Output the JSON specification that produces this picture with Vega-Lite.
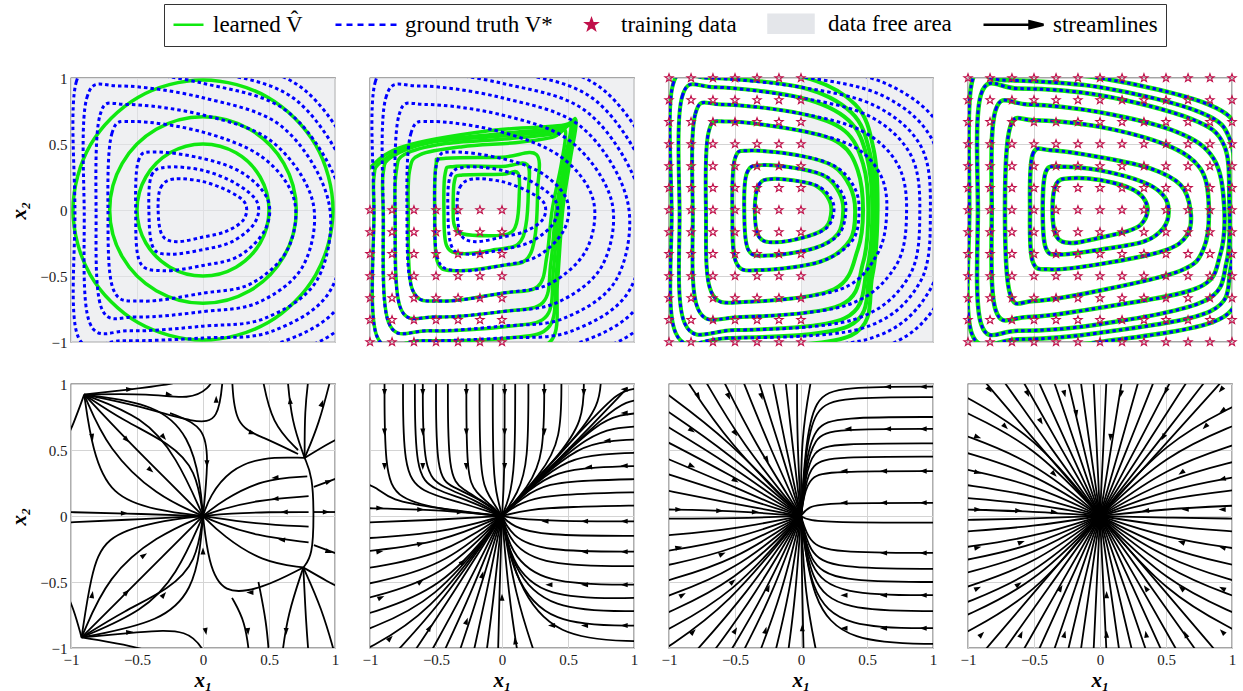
{
"$schema":"https://vega.github.io/schema/vega-lite/v6.json",
"autosize":{"type":"pad"},
"padding":{"left":8,"top":3,"right":5,"bottom":0},
"columns":4,
"spacing":{"row":25,"column":21},
"resolve":{"scale":{"color":"shared","shape":"shared"},"legend":{"color":"shared","shape":"shared"}},
"datasets":{
"df":[{"p":1,"x":-1,"x2":1,"y":-1,"y2":1},{"p":2,"x":-1,"x2":1,"y":0,"y2":1},{"p":2,"x":0,"x2":1,"y":-1,"y2":0},{"p":3,"x":0,"x2":1,"y":-1,"y2":1}],
"gt":[
{"f":"A","c":1,"x":-0.34,"y":0},{"f":"A","c":1,"x":-0.32,"y":0.17},{"f":"A","c":1,"x":-0.22,"y":0.235},{"f":"A","c":1,"x":0,"y":0.215},{"f":"A","c":1,"x":0.2,"y":0.14},{"f":"A","c":1,"x":0.32,"y":0.05},{"f":"A","c":1,"x":0.31,"y":-0.07},{"f":"A","c":1,"x":0.18,"y":-0.16},{"f":"A","c":1,"x":0,"y":-0.205},{"f":"A","c":1,"x":-0.2,"y":-0.24},{"f":"A","c":1,"x":-0.31,"y":-0.19},
{"f":"A","c":2,"x":-0.41,"y":0},{"f":"A","c":2,"x":-0.39,"y":0.26},{"f":"A","c":2,"x":-0.27,"y":0.325},{"f":"A","c":2,"x":0,"y":0.3},{"f":"A","c":2,"x":0.25,"y":0.2},{"f":"A","c":2,"x":0.41,"y":0.06},{"f":"A","c":2,"x":0.39,"y":-0.1},{"f":"A","c":2,"x":0.22,"y":-0.24},{"f":"A","c":2,"x":0,"y":-0.3},{"f":"A","c":2,"x":-0.25,"y":-0.335},{"f":"A","c":2,"x":-0.38,"y":-0.28},
{"f":"A","c":3,"x":-0.51,"y":0},{"f":"A","c":3,"x":-0.49,"y":0.37},{"f":"A","c":3,"x":-0.37,"y":0.44},{"f":"A","c":3,"x":0,"y":0.39},{"f":"A","c":3,"x":0.3,"y":0.28},{"f":"A","c":3,"x":0.49,"y":0.08},{"f":"A","c":3,"x":0.47,"y":-0.15},{"f":"A","c":3,"x":0.27,"y":-0.35},{"f":"A","c":3,"x":0,"y":-0.42},{"f":"A","c":3,"x":-0.3,"y":-0.46},{"f":"A","c":3,"x":-0.48,"y":-0.39},
{"f":"A","c":4,"x":-0.72,"y":0},{"f":"A","c":4,"x":-0.69,"y":0.58},{"f":"A","c":4,"x":-0.52,"y":0.67},{"f":"A","c":4,"x":0,"y":0.59},{"f":"A","c":4,"x":0.45,"y":0.4},{"f":"A","c":4,"x":0.69,"y":0.08},{"f":"A","c":4,"x":0.64,"y":-0.3},{"f":"A","c":4,"x":0.36,"y":-0.56},{"f":"A","c":4,"x":0,"y":-0.63},{"f":"A","c":4,"x":-0.45,"y":-0.69},{"f":"A","c":4,"x":-0.68,"y":-0.6},
{"f":"A","c":5,"x":-0.81,"y":0},{"f":"A","c":5,"x":-0.78,"y":0.72},{"f":"A","c":5,"x":-0.58,"y":0.8},{"f":"A","c":5,"x":0,"y":0.72},{"f":"A","c":5,"x":0.52,"y":0.52},{"f":"A","c":5,"x":0.83,"y":0.07},{"f":"A","c":5,"x":0.76,"y":-0.42},{"f":"A","c":5,"x":0.42,"y":-0.7},{"f":"A","c":5,"x":0,"y":-0.77},{"f":"A","c":5,"x":-0.5,"y":-0.81},{"f":"A","c":5,"x":-0.77,"y":-0.74},
{"f":"A","c":6,"x":-0.9,"y":0},{"f":"A","c":6,"x":-0.88,"y":0.85},{"f":"A","c":6,"x":-0.63,"y":0.94},{"f":"A","c":6,"x":0,"y":0.85},{"f":"A","c":6,"x":0.6,"y":0.63},{"f":"A","c":6,"x":0.95,"y":0.07},{"f":"A","c":6,"x":0.87,"y":-0.52},{"f":"A","c":6,"x":0.47,"y":-0.82},{"f":"A","c":6,"x":0,"y":-0.88},{"f":"A","c":6,"x":-0.55,"y":-0.915},{"f":"A","c":6,"x":-0.86,"y":-0.85},
{"f":"A","c":7,"x":-0.97,"y":0},{"f":"A","c":7,"x":-0.96,"y":0.97},{"f":"A","c":7,"x":-0.67,"y":1.05},{"f":"A","c":7,"x":0,"y":0.96},{"f":"A","c":7,"x":0.66,"y":0.73},{"f":"A","c":7,"x":1.06,"y":0.07},{"f":"A","c":7,"x":0.97,"y":-0.6},{"f":"A","c":7,"x":0.52,"y":-0.92},{"f":"A","c":7,"x":0,"y":-0.97},{"f":"A","c":7,"x":-0.6,"y":-0.99},{"f":"A","c":7,"x":-0.95,"y":-0.95},
{"f":"A","c":8,"x":-1.05,"y":0},{"f":"A","c":8,"x":-1.04,"y":1.08},{"f":"A","c":8,"x":-0.72,"y":1.15},{"f":"A","c":8,"x":0,"y":1.06},{"f":"A","c":8,"x":0.72,"y":0.82},{"f":"A","c":8,"x":1.16,"y":0.07},{"f":"A","c":8,"x":1.06,"y":-0.68},{"f":"A","c":8,"x":0.57,"y":-1.01},{"f":"A","c":8,"x":0,"y":-1.06},{"f":"A","c":8,"x":-0.65,"y":-1.07},{"f":"A","c":8,"x":-1.03,"y":-1.04},
{"f":"A","c":9,"x":-1.12,"y":0},{"f":"A","c":9,"x":-1.12,"y":1.18},{"f":"A","c":9,"x":-0.77,"y":1.26},{"f":"A","c":9,"x":0,"y":1.16},{"f":"A","c":9,"x":0.78,"y":0.9},{"f":"A","c":9,"x":1.26,"y":0.07},{"f":"A","c":9,"x":1.15,"y":-0.76},{"f":"A","c":9,"x":0.62,"y":-1.1},{"f":"A","c":9,"x":0,"y":-1.15},{"f":"A","c":9,"x":-0.7,"y":-1.15},{"f":"A","c":9,"x":-1.1,"y":-1.12},
{"f":"C","c":1,"x":-0.35,"y":0},{"f":"C","c":1,"x":-0.32,"y":0.19},{"f":"C","c":1,"x":-0.22,"y":0.235},{"f":"C","c":1,"x":0,"y":0.215},{"f":"C","c":1,"x":0.13,"y":0.18},{"f":"C","c":1,"x":0.22,"y":0.1},{"f":"C","c":1,"x":0.25,"y":0},{"f":"C","c":1,"x":0.2,"y":-0.13},{"f":"C","c":1,"x":0.05,"y":-0.2},{"f":"C","c":1,"x":-0.2,"y":-0.245},{"f":"C","c":1,"x":-0.32,"y":-0.2},
{"f":"C","c":2,"x":-0.43,"y":0},{"f":"C","c":2,"x":-0.41,"y":0.28},{"f":"C","c":2,"x":-0.3,"y":0.34},{"f":"C","c":2,"x":0,"y":0.31},{"f":"C","c":2,"x":0.2,"y":0.25},{"f":"C","c":2,"x":0.31,"y":0.13},{"f":"C","c":2,"x":0.34,"y":0},{"f":"C","c":2,"x":0.29,"y":-0.18},{"f":"C","c":2,"x":0.1,"y":-0.29},{"f":"C","c":2,"x":-0.25,"y":-0.345},{"f":"C","c":2,"x":-0.4,"y":-0.3},
{"f":"C","c":3,"x":-0.52,"y":0},{"f":"C","c":3,"x":-0.5,"y":0.39},{"f":"C","c":3,"x":-0.38,"y":0.45},{"f":"C","c":3,"x":0,"y":0.41},{"f":"C","c":3,"x":0.26,"y":0.33},{"f":"C","c":3,"x":0.4,"y":0.18},{"f":"C","c":3,"x":0.44,"y":0},{"f":"C","c":3,"x":0.39,"y":-0.23},{"f":"C","c":3,"x":0.15,"y":-0.39},{"f":"C","c":3,"x":-0.3,"y":-0.455},{"f":"C","c":3,"x":-0.49,"y":-0.4},
{"f":"C","c":4,"x":-0.72,"y":0},{"f":"C","c":4,"x":-0.7,"y":0.59},{"f":"C","c":4,"x":-0.55,"y":0.67},{"f":"C","c":4,"x":0,"y":0.6},{"f":"C","c":4,"x":0.4,"y":0.48},{"f":"C","c":4,"x":0.6,"y":0.27},{"f":"C","c":4,"x":0.65,"y":0},{"f":"C","c":4,"x":0.58,"y":-0.33},{"f":"C","c":4,"x":0.3,"y":-0.6},{"f":"C","c":4,"x":-0.4,"y":-0.695},{"f":"C","c":4,"x":-0.68,"y":-0.62},
{"f":"C","c":5,"x":-0.82,"y":0},{"f":"C","c":5,"x":-0.8,"y":0.73},{"f":"C","c":5,"x":-0.6,"y":0.8},{"f":"C","c":5,"x":0,"y":0.73},{"f":"C","c":5,"x":0.46,"y":0.6},{"f":"C","c":5,"x":0.73,"y":0.35},{"f":"C","c":5,"x":0.8,"y":0},{"f":"C","c":5,"x":0.72,"y":-0.42},{"f":"C","c":5,"x":0.35,"y":-0.72},{"f":"C","c":5,"x":-0.45,"y":-0.81},{"f":"C","c":5,"x":-0.78,"y":-0.75},
{"f":"C","c":6,"x":-0.92,"y":0},{"f":"C","c":6,"x":-0.9,"y":0.86},{"f":"C","c":6,"x":-0.65,"y":0.93},{"f":"C","c":6,"x":0,"y":0.85},{"f":"C","c":6,"x":0.52,"y":0.71},{"f":"C","c":6,"x":0.83,"y":0.42},{"f":"C","c":6,"x":0.9,"y":0},{"f":"C","c":6,"x":0.82,"y":-0.5},{"f":"C","c":6,"x":0.4,"y":-0.83},{"f":"C","c":6,"x":-0.5,"y":-0.91},{"f":"C","c":6,"x":-0.88,"y":-0.86},
{"f":"C","c":7,"x":-0.98,"y":0},{"f":"C","c":7,"x":-0.97,"y":0.95},{"f":"C","c":7,"x":-0.7,"y":1.0},{"f":"C","c":7,"x":0,"y":0.93},{"f":"C","c":7,"x":0.56,"y":0.79},{"f":"C","c":7,"x":0.91,"y":0.48},{"f":"C","c":7,"x":0.98,"y":0},{"f":"C","c":7,"x":0.9,"y":-0.55},{"f":"C","c":7,"x":0.45,"y":-0.9},{"f":"C","c":7,"x":-0.55,"y":-0.97},{"f":"C","c":7,"x":-0.95,"y":-0.93},
{"f":"C","c":8,"x":-1.05,"y":0},{"f":"C","c":8,"x":-1.04,"y":1.04},{"f":"C","c":8,"x":-0.75,"y":1.08},{"f":"C","c":8,"x":0,"y":1.01},{"f":"C","c":8,"x":0.61,"y":0.87},{"f":"C","c":8,"x":0.99,"y":0.54},{"f":"C","c":8,"x":1.07,"y":0},{"f":"C","c":8,"x":0.98,"y":-0.6},{"f":"C","c":8,"x":0.5,"y":-0.98},{"f":"C","c":8,"x":-0.6,"y":-1.04},{"f":"C","c":8,"x":-1.03,"y":-1.02},
{"f":"C","c":9,"x":-1.12,"y":0},{"f":"C","c":9,"x":-1.12,"y":1.13},{"f":"C","c":9,"x":-0.8,"y":1.17},{"f":"C","c":9,"x":0,"y":1.1},{"f":"C","c":9,"x":0.66,"y":0.95},{"f":"C","c":9,"x":1.07,"y":0.6},{"f":"C","c":9,"x":1.15,"y":0},{"f":"C","c":9,"x":1.06,"y":-0.66},{"f":"C","c":9,"x":0.55,"y":-1.06},{"f":"C","c":9,"x":-0.65,"y":-1.12},{"f":"C","c":9,"x":-1.1,"y":-1.1},
{"f":"B","c":1,"x":-0.36,"y":0},{"f":"B","c":1,"x":-0.33,"y":0.2},{"f":"B","c":1,"x":-0.22,"y":0.24},{"f":"B","c":1,"x":0,"y":0.227},{"f":"B","c":1,"x":0.23,"y":0.164},{"f":"B","c":1,"x":0.33,"y":0.09},{"f":"B","c":1,"x":0.36,"y":-0.01},{"f":"B","c":1,"x":0.31,"y":-0.11},{"f":"B","c":1,"x":0.21,"y":-0.16},{"f":"B","c":1,"x":0,"y":-0.21},{"f":"B","c":1,"x":-0.22,"y":-0.25},{"f":"B","c":1,"x":-0.33,"y":-0.2},
{"f":"B","c":2,"x":-0.434,"y":0},{"f":"B","c":2,"x":-0.41,"y":0.29},{"f":"B","c":2,"x":-0.3,"y":0.327},{"f":"B","c":2,"x":0,"y":0.3},{"f":"B","c":2,"x":0.33,"y":0.21},{"f":"B","c":2,"x":0.48,"y":0.11},{"f":"B","c":2,"x":0.52,"y":-0.01},{"f":"B","c":2,"x":0.48,"y":-0.137},{"f":"B","c":2,"x":0.33,"y":-0.24},{"f":"B","c":2,"x":0,"y":-0.3},{"f":"B","c":2,"x":-0.3,"y":-0.337},{"f":"B","c":2,"x":-0.41,"y":-0.29},
{"f":"B","c":3,"x":-0.53,"y":0},{"f":"B","c":3,"x":-0.51,"y":0.42},{"f":"B","c":3,"x":-0.37,"y":0.453},{"f":"B","c":3,"x":0,"y":0.4},{"f":"B","c":3,"x":0.38,"y":0.315},{"f":"B","c":3,"x":0.61,"y":0.19},{"f":"B","c":3,"x":0.685,"y":0},{"f":"B","c":3,"x":0.66,"y":-0.19},{"f":"B","c":3,"x":0.48,"y":-0.31},{"f":"B","c":3,"x":0,"y":-0.41},{"f":"B","c":3,"x":-0.37,"y":-0.45},{"f":"B","c":3,"x":-0.51,"y":-0.39},
{"f":"B","c":4,"x":-0.72,"y":0},{"f":"B","c":4,"x":-0.68,"y":0.63},{"f":"B","c":4,"x":-0.5,"y":0.68},{"f":"B","c":4,"x":0,"y":0.63},{"f":"B","c":4,"x":0.51,"y":0.49},{"f":"B","c":4,"x":0.76,"y":0.315},{"f":"B","c":4,"x":0.824,"y":0.04},{"f":"B","c":4,"x":0.786,"y":-0.29},{"f":"B","c":4,"x":0.61,"y":-0.46},{"f":"B","c":4,"x":0,"y":-0.61},{"f":"B","c":4,"x":-0.5,"y":-0.69},{"f":"B","c":4,"x":-0.68,"y":-0.64},
{"f":"B","c":5,"x":-0.82,"y":0},{"f":"B","c":5,"x":-0.79,"y":0.76},{"f":"B","c":5,"x":-0.55,"y":0.8},{"f":"B","c":5,"x":0,"y":0.74},{"f":"B","c":5,"x":0.585,"y":0.59},{"f":"B","c":5,"x":0.86,"y":0.39},{"f":"B","c":5,"x":0.94,"y":0.04},{"f":"B","c":5,"x":0.91,"y":-0.34},{"f":"B","c":5,"x":0.74,"y":-0.59},{"f":"B","c":5,"x":0,"y":-0.74},{"f":"B","c":5,"x":-0.55,"y":-0.81},{"f":"B","c":5,"x":-0.79,"y":-0.76},
{"f":"B","c":6,"x":-0.925,"y":0},{"f":"B","c":6,"x":-0.9,"y":0.88},{"f":"B","c":6,"x":-0.62,"y":0.92},{"f":"B","c":6,"x":0,"y":0.87},{"f":"B","c":6,"x":0.69,"y":0.69},{"f":"B","c":6,"x":0.94,"y":0.49},{"f":"B","c":6,"x":0.98,"y":0.06},{"f":"B","c":6,"x":0.96,"y":-0.39},{"f":"B","c":6,"x":0.79,"y":-0.69},{"f":"B","c":6,"x":0,"y":-0.865},{"f":"B","c":6,"x":-0.62,"y":-0.915},{"f":"B","c":6,"x":-0.9,"y":-0.865},
{"f":"B","c":7,"x":-0.99,"y":0},{"f":"B","c":7,"x":-0.97,"y":0.97},{"f":"B","c":7,"x":-0.75,"y":0.985},{"f":"B","c":7,"x":0,"y":0.93},{"f":"B","c":7,"x":0.76,"y":0.74},{"f":"B","c":7,"x":0.99,"y":0.52},{"f":"B","c":7,"x":1.01,"y":0.06},{"f":"B","c":7,"x":0.99,"y":-0.44},{"f":"B","c":7,"x":0.84,"y":-0.765},{"f":"B","c":7,"x":0,"y":-0.93},{"f":"B","c":7,"x":-0.62,"y":-0.98},{"f":"B","c":7,"x":-0.97,"y":-0.94},
{"f":"B","c":8,"x":-1.06,"y":0},{"f":"B","c":8,"x":-1.05,"y":1.05},{"f":"B","c":8,"x":-0.8,"y":1.06},{"f":"B","c":8,"x":0,"y":1.0},{"f":"B","c":8,"x":0.82,"y":0.8},{"f":"B","c":8,"x":1.06,"y":0.56},{"f":"B","c":8,"x":1.08,"y":0.06},{"f":"B","c":8,"x":1.06,"y":-0.48},{"f":"B","c":8,"x":0.9,"y":-0.83},{"f":"B","c":8,"x":0,"y":-1.0},{"f":"B","c":8,"x":-0.66,"y":-1.05},{"f":"B","c":8,"x":-1.04,"y":-1.02}
],
"lv":[
{"p":1,"c":1,"x":0.5,"y":0},{"p":1,"c":1,"x":0.433,"y":0.25},{"p":1,"c":1,"x":0.25,"y":0.433},{"p":1,"c":1,"x":0,"y":0.5},{"p":1,"c":1,"x":-0.25,"y":0.433},{"p":1,"c":1,"x":-0.433,"y":0.25},{"p":1,"c":1,"x":-0.5,"y":0},{"p":1,"c":1,"x":-0.433,"y":-0.25},{"p":1,"c":1,"x":-0.25,"y":-0.433},{"p":1,"c":1,"x":0,"y":-0.5},{"p":1,"c":1,"x":0.25,"y":-0.433},{"p":1,"c":1,"x":0.433,"y":-0.25},
{"p":1,"c":2,"x":0.707,"y":0},{"p":1,"c":2,"x":0.612,"y":0.354},{"p":1,"c":2,"x":0.354,"y":0.612},{"p":1,"c":2,"x":0,"y":0.707},{"p":1,"c":2,"x":-0.354,"y":0.612},{"p":1,"c":2,"x":-0.612,"y":0.354},{"p":1,"c":2,"x":-0.707,"y":0},{"p":1,"c":2,"x":-0.612,"y":-0.354},{"p":1,"c":2,"x":-0.354,"y":-0.612},{"p":1,"c":2,"x":0,"y":-0.707},{"p":1,"c":2,"x":0.354,"y":-0.612},{"p":1,"c":2,"x":0.612,"y":-0.354},
{"p":1,"c":3,"x":0.985,"y":0},{"p":1,"c":3,"x":0.853,"y":0.493},{"p":1,"c":3,"x":0.493,"y":0.853},{"p":1,"c":3,"x":0,"y":0.985},{"p":1,"c":3,"x":-0.493,"y":0.853},{"p":1,"c":3,"x":-0.853,"y":0.493},{"p":1,"c":3,"x":-0.985,"y":0},{"p":1,"c":3,"x":-0.853,"y":-0.493},{"p":1,"c":3,"x":-0.493,"y":-0.853},{"p":1,"c":3,"x":0,"y":-0.985},{"p":1,"c":3,"x":0.493,"y":-0.853},{"p":1,"c":3,"x":0.853,"y":-0.493},
{"p":2,"c":1,"x":-0.37,"y":0},{"p":2,"c":1,"x":-0.36,"y":0.22},{"p":2,"c":1,"x":-0.3,"y":0.265},{"p":2,"c":1,"x":0,"y":0.27},{"p":2,"c":1,"x":0.12,"y":0.28},{"p":2,"c":1,"x":0.13,"y":0.1},{"p":2,"c":1,"x":0.11,"y":-0.1},{"p":2,"c":1,"x":0.05,"y":-0.18},{"p":2,"c":1,"x":-0.1,"y":-0.195},{"p":2,"c":1,"x":-0.3,"y":-0.18},{"p":2,"c":1,"x":-0.36,"y":-0.12},
{"p":2,"c":2,"x":-0.44,"y":0},{"p":2,"c":2,"x":-0.43,"y":0.28},{"p":2,"c":2,"x":-0.36,"y":0.33},{"p":2,"c":2,"x":0,"y":0.33},{"p":2,"c":2,"x":0.19,"y":0.345},{"p":2,"c":2,"x":0.2,"y":0.15},{"p":2,"c":2,"x":0.18,"y":-0.12},{"p":2,"c":2,"x":0.12,"y":-0.26},{"p":2,"c":2,"x":-0.05,"y":-0.3},{"p":2,"c":2,"x":-0.3,"y":-0.33},{"p":2,"c":2,"x":-0.42,"y":-0.27},
{"p":2,"c":3,"x":-0.51,"y":0},{"p":2,"c":3,"x":-0.5,"y":0.34},{"p":2,"c":3,"x":-0.44,"y":0.39},{"p":2,"c":3,"x":0,"y":0.4},{"p":2,"c":3,"x":0.26,"y":0.42},{"p":2,"c":3,"x":0.27,"y":0.15},{"p":2,"c":3,"x":0.25,"y":-0.2},{"p":2,"c":3,"x":0.18,"y":-0.38},{"p":2,"c":3,"x":0,"y":-0.42},{"p":2,"c":3,"x":-0.35,"y":-0.46},{"p":2,"c":3,"x":-0.49,"y":-0.39},
{"p":2,"c":4,"x":-0.71,"y":0},{"p":2,"c":4,"x":-0.7,"y":0.3},{"p":2,"c":4,"x":-0.62,"y":0.42},{"p":2,"c":4,"x":-0.3,"y":0.48},{"p":2,"c":4,"x":0.1,"y":0.51},{"p":2,"c":4,"x":0.38,"y":0.55},{"p":2,"c":4,"x":0.48,"y":0.6},{"p":2,"c":4,"x":0.45,"y":0.35},{"p":2,"c":4,"x":0.38,"y":0},{"p":2,"c":4,"x":0.34,"y":-0.35},{"p":2,"c":4,"x":0.27,"y":-0.58},{"p":2,"c":4,"x":0,"y":-0.63},{"p":2,"c":4,"x":-0.45,"y":-0.69},{"p":2,"c":4,"x":-0.68,"y":-0.6},
{"p":2,"c":5,"x":-0.81,"y":0},{"p":2,"c":5,"x":-0.8,"y":0.3},{"p":2,"c":5,"x":-0.74,"y":0.42},{"p":2,"c":5,"x":-0.45,"y":0.5},{"p":2,"c":5,"x":0.05,"y":0.54},{"p":2,"c":5,"x":0.4,"y":0.58},{"p":2,"c":5,"x":0.52,"y":0.64},{"p":2,"c":5,"x":0.48,"y":0.4},{"p":2,"c":5,"x":0.41,"y":0},{"p":2,"c":5,"x":0.37,"y":-0.4},{"p":2,"c":5,"x":0.31,"y":-0.7},{"p":2,"c":5,"x":0,"y":-0.77},{"p":2,"c":5,"x":-0.5,"y":-0.81},{"p":2,"c":5,"x":-0.77,"y":-0.74},
{"p":2,"c":6,"x":-0.9,"y":0},{"p":2,"c":6,"x":-0.9,"y":0.28},{"p":2,"c":6,"x":-0.84,"y":0.4},{"p":2,"c":6,"x":-0.55,"y":0.51},{"p":2,"c":6,"x":0,"y":0.56},{"p":2,"c":6,"x":0.42,"y":0.6},{"p":2,"c":6,"x":0.54,"y":0.66},{"p":2,"c":6,"x":0.5,"y":0.4},{"p":2,"c":6,"x":0.43,"y":0},{"p":2,"c":6,"x":0.39,"y":-0.45},{"p":2,"c":6,"x":0.34,"y":-0.8},{"p":2,"c":6,"x":0.05,"y":-0.88},{"p":2,"c":6,"x":-0.55,"y":-0.915},{"p":2,"c":6,"x":-0.86,"y":-0.85},
{"p":2,"c":7,"x":-0.97,"y":0},{"p":2,"c":7,"x":-0.97,"y":0.25},{"p":2,"c":7,"x":-0.92,"y":0.36},{"p":2,"c":7,"x":-0.65,"y":0.5},{"p":2,"c":7,"x":0,"y":0.58},{"p":2,"c":7,"x":0.44,"y":0.62},{"p":2,"c":7,"x":0.55,"y":0.67},{"p":2,"c":7,"x":0.51,"y":0.4},{"p":2,"c":7,"x":0.45,"y":0},{"p":2,"c":7,"x":0.41,"y":-0.5},{"p":2,"c":7,"x":0.36,"y":-0.88},{"p":2,"c":7,"x":0.05,"y":-0.97},{"p":2,"c":7,"x":-0.6,"y":-0.99},{"p":2,"c":7,"x":-0.95,"y":-0.95},
{"p":2,"c":8,"x":-1.05,"y":0},{"p":2,"c":8,"x":-1.05,"y":0.22},{"p":2,"c":8,"x":-1.0,"y":0.32},{"p":2,"c":8,"x":-0.75,"y":0.48},{"p":2,"c":8,"x":-0.1,"y":0.6},{"p":2,"c":8,"x":0.45,"y":0.64},{"p":2,"c":8,"x":0.56,"y":0.68},{"p":2,"c":8,"x":0.52,"y":0.4},{"p":2,"c":8,"x":0.46,"y":0},{"p":2,"c":8,"x":0.42,"y":-0.55},{"p":2,"c":8,"x":0.38,"y":-0.98},{"p":2,"c":8,"x":0.05,"y":-1.06},{"p":2,"c":8,"x":-0.65,"y":-1.07},{"p":2,"c":8,"x":-1.03,"y":-1.04},
{"p":3,"c":1,"x":-0.35,"y":0},{"p":3,"c":1,"x":-0.32,"y":0.19},{"p":3,"c":1,"x":-0.22,"y":0.235},{"p":3,"c":1,"x":0,"y":0.215},{"p":3,"c":1,"x":0.12,"y":0.18},{"p":3,"c":1,"x":0.2,"y":0.1},{"p":3,"c":1,"x":0.23,"y":0},{"p":3,"c":1,"x":0.19,"y":-0.13},{"p":3,"c":1,"x":0.05,"y":-0.2},{"p":3,"c":1,"x":-0.2,"y":-0.245},{"p":3,"c":1,"x":-0.32,"y":-0.2},
{"p":3,"c":2,"x":-0.43,"y":0},{"p":3,"c":2,"x":-0.41,"y":0.28},{"p":3,"c":2,"x":-0.3,"y":0.34},{"p":3,"c":2,"x":0,"y":0.31},{"p":3,"c":2,"x":0.19,"y":0.25},{"p":3,"c":2,"x":0.29,"y":0.13},{"p":3,"c":2,"x":0.32,"y":0},{"p":3,"c":2,"x":0.28,"y":-0.18},{"p":3,"c":2,"x":0.1,"y":-0.29},{"p":3,"c":2,"x":-0.25,"y":-0.345},{"p":3,"c":2,"x":-0.4,"y":-0.3},
{"p":3,"c":3,"x":-0.52,"y":0},{"p":3,"c":3,"x":-0.5,"y":0.39},{"p":3,"c":3,"x":-0.38,"y":0.45},{"p":3,"c":3,"x":0,"y":0.41},{"p":3,"c":3,"x":0.25,"y":0.33},{"p":3,"c":3,"x":0.37,"y":0.18},{"p":3,"c":3,"x":0.41,"y":0},{"p":3,"c":3,"x":0.37,"y":-0.23},{"p":3,"c":3,"x":0.15,"y":-0.39},{"p":3,"c":3,"x":-0.3,"y":-0.455},{"p":3,"c":3,"x":-0.49,"y":-0.4},
{"p":3,"c":4,"x":-0.72,"y":0},{"p":3,"c":4,"x":-0.7,"y":0.59},{"p":3,"c":4,"x":-0.55,"y":0.67},{"p":3,"c":4,"x":0,"y":0.6},{"p":3,"c":4,"x":0.3,"y":0.5},{"p":3,"c":4,"x":0.43,"y":0.3},{"p":3,"c":4,"x":0.47,"y":0},{"p":3,"c":4,"x":0.43,"y":-0.3},{"p":3,"c":4,"x":0.25,"y":-0.6},{"p":3,"c":4,"x":-0.4,"y":-0.695},{"p":3,"c":4,"x":-0.68,"y":-0.62},
{"p":3,"c":5,"x":-0.82,"y":0},{"p":3,"c":5,"x":-0.8,"y":0.73},{"p":3,"c":5,"x":-0.6,"y":0.8},{"p":3,"c":5,"x":0,"y":0.73},{"p":3,"c":5,"x":0.33,"y":0.6},{"p":3,"c":5,"x":0.47,"y":0.35},{"p":3,"c":5,"x":0.51,"y":0},{"p":3,"c":5,"x":0.47,"y":-0.4},{"p":3,"c":5,"x":0.3,"y":-0.72},{"p":3,"c":5,"x":-0.45,"y":-0.81},{"p":3,"c":5,"x":-0.78,"y":-0.75},
{"p":3,"c":6,"x":-0.92,"y":0},{"p":3,"c":6,"x":-0.9,"y":0.86},{"p":3,"c":6,"x":-0.65,"y":0.93},{"p":3,"c":6,"x":0,"y":0.85},{"p":3,"c":6,"x":0.36,"y":0.68},{"p":3,"c":6,"x":0.5,"y":0.4},{"p":3,"c":6,"x":0.54,"y":0},{"p":3,"c":6,"x":0.5,"y":-0.45},{"p":3,"c":6,"x":0.33,"y":-0.82},{"p":3,"c":6,"x":-0.5,"y":-0.91},{"p":3,"c":6,"x":-0.88,"y":-0.86},
{"p":3,"c":7,"x":-0.98,"y":0},{"p":3,"c":7,"x":-0.97,"y":0.95},{"p":3,"c":7,"x":-0.7,"y":1.0},{"p":3,"c":7,"x":0,"y":0.93},{"p":3,"c":7,"x":0.38,"y":0.74},{"p":3,"c":7,"x":0.52,"y":0.44},{"p":3,"c":7,"x":0.56,"y":0},{"p":3,"c":7,"x":0.52,"y":-0.48},{"p":3,"c":7,"x":0.36,"y":-0.88},{"p":3,"c":7,"x":-0.55,"y":-0.97},{"p":3,"c":7,"x":-0.95,"y":-0.93},
{"p":3,"c":8,"x":-1.05,"y":0},{"p":3,"c":8,"x":-1.04,"y":1.04},{"p":3,"c":8,"x":-0.75,"y":1.08},{"p":3,"c":8,"x":0,"y":1.01},{"p":3,"c":8,"x":0.41,"y":0.8},{"p":3,"c":8,"x":0.55,"y":0.46},{"p":3,"c":8,"x":0.58,"y":0},{"p":3,"c":8,"x":0.54,"y":-0.5},{"p":3,"c":8,"x":0.38,"y":-0.95},{"p":3,"c":8,"x":-0.6,"y":-1.04},{"p":3,"c":8,"x":-1.03,"y":-1.02}
],
"td":[
{"p":2,"x":-1,"y":-1},{"p":2,"x":-1,"y":-0.833},{"p":2,"x":-1,"y":-0.667},{"p":2,"x":-1,"y":-0.5},{"p":2,"x":-1,"y":-0.333},{"p":2,"x":-1,"y":-0.167},{"p":2,"x":-1,"y":0},
{"p":2,"x":-0.833,"y":-1},{"p":2,"x":-0.833,"y":-0.833},{"p":2,"x":-0.833,"y":-0.667},{"p":2,"x":-0.833,"y":-0.5},{"p":2,"x":-0.833,"y":-0.333},{"p":2,"x":-0.833,"y":-0.167},{"p":2,"x":-0.833,"y":0},
{"p":2,"x":-0.667,"y":-1},{"p":2,"x":-0.667,"y":-0.833},{"p":2,"x":-0.667,"y":-0.667},{"p":2,"x":-0.667,"y":-0.5},{"p":2,"x":-0.667,"y":-0.333},{"p":2,"x":-0.667,"y":-0.167},{"p":2,"x":-0.667,"y":0},
{"p":2,"x":-0.5,"y":-1},{"p":2,"x":-0.5,"y":-0.833},{"p":2,"x":-0.5,"y":-0.667},{"p":2,"x":-0.5,"y":-0.5},{"p":2,"x":-0.5,"y":-0.333},{"p":2,"x":-0.5,"y":-0.167},{"p":2,"x":-0.5,"y":0},
{"p":2,"x":-0.333,"y":-1},{"p":2,"x":-0.333,"y":-0.833},{"p":2,"x":-0.333,"y":-0.667},{"p":2,"x":-0.333,"y":-0.5},{"p":2,"x":-0.333,"y":-0.333},{"p":2,"x":-0.333,"y":-0.167},{"p":2,"x":-0.333,"y":0},
{"p":2,"x":-0.167,"y":-1},{"p":2,"x":-0.167,"y":-0.833},{"p":2,"x":-0.167,"y":-0.667},{"p":2,"x":-0.167,"y":-0.5},{"p":2,"x":-0.167,"y":-0.333},{"p":2,"x":-0.167,"y":-0.167},{"p":2,"x":-0.167,"y":0},
{"p":2,"x":0,"y":-1},{"p":2,"x":0,"y":-0.833},{"p":2,"x":0,"y":-0.667},{"p":2,"x":0,"y":-0.5},{"p":2,"x":0,"y":-0.333},{"p":2,"x":0,"y":-0.167},{"p":2,"x":0,"y":0},
{"p":3,"x":-1,"y":-1},{"p":3,"x":-1,"y":-0.833},{"p":3,"x":-1,"y":-0.667},{"p":3,"x":-1,"y":-0.5},{"p":3,"x":-1,"y":-0.333},{"p":3,"x":-1,"y":-0.167},{"p":3,"x":-1,"y":0},{"p":3,"x":-1,"y":0.167},{"p":3,"x":-1,"y":0.333},{"p":3,"x":-1,"y":0.5},{"p":3,"x":-1,"y":0.667},{"p":3,"x":-1,"y":0.833},{"p":3,"x":-1,"y":1},
{"p":3,"x":-0.833,"y":-1},{"p":3,"x":-0.833,"y":-0.833},{"p":3,"x":-0.833,"y":-0.667},{"p":3,"x":-0.833,"y":-0.5},{"p":3,"x":-0.833,"y":-0.333},{"p":3,"x":-0.833,"y":-0.167},{"p":3,"x":-0.833,"y":0},{"p":3,"x":-0.833,"y":0.167},{"p":3,"x":-0.833,"y":0.333},{"p":3,"x":-0.833,"y":0.5},{"p":3,"x":-0.833,"y":0.667},{"p":3,"x":-0.833,"y":0.833},{"p":3,"x":-0.833,"y":1},
{"p":3,"x":-0.667,"y":-1},{"p":3,"x":-0.667,"y":-0.833},{"p":3,"x":-0.667,"y":-0.667},{"p":3,"x":-0.667,"y":-0.5},{"p":3,"x":-0.667,"y":-0.333},{"p":3,"x":-0.667,"y":-0.167},{"p":3,"x":-0.667,"y":0},{"p":3,"x":-0.667,"y":0.167},{"p":3,"x":-0.667,"y":0.333},{"p":3,"x":-0.667,"y":0.5},{"p":3,"x":-0.667,"y":0.667},{"p":3,"x":-0.667,"y":0.833},{"p":3,"x":-0.667,"y":1},
{"p":3,"x":-0.5,"y":-1},{"p":3,"x":-0.5,"y":-0.833},{"p":3,"x":-0.5,"y":-0.667},{"p":3,"x":-0.5,"y":-0.5},{"p":3,"x":-0.5,"y":-0.333},{"p":3,"x":-0.5,"y":-0.167},{"p":3,"x":-0.5,"y":0},{"p":3,"x":-0.5,"y":0.167},{"p":3,"x":-0.5,"y":0.333},{"p":3,"x":-0.5,"y":0.5},{"p":3,"x":-0.5,"y":0.667},{"p":3,"x":-0.5,"y":0.833},{"p":3,"x":-0.5,"y":1},
{"p":3,"x":-0.333,"y":-1},{"p":3,"x":-0.333,"y":-0.833},{"p":3,"x":-0.333,"y":-0.667},{"p":3,"x":-0.333,"y":-0.5},{"p":3,"x":-0.333,"y":-0.333},{"p":3,"x":-0.333,"y":-0.167},{"p":3,"x":-0.333,"y":0},{"p":3,"x":-0.333,"y":0.167},{"p":3,"x":-0.333,"y":0.333},{"p":3,"x":-0.333,"y":0.5},{"p":3,"x":-0.333,"y":0.667},{"p":3,"x":-0.333,"y":0.833},{"p":3,"x":-0.333,"y":1},
{"p":3,"x":-0.167,"y":-1},{"p":3,"x":-0.167,"y":-0.833},{"p":3,"x":-0.167,"y":-0.667},{"p":3,"x":-0.167,"y":-0.5},{"p":3,"x":-0.167,"y":-0.333},{"p":3,"x":-0.167,"y":-0.167},{"p":3,"x":-0.167,"y":0},{"p":3,"x":-0.167,"y":0.167},{"p":3,"x":-0.167,"y":0.333},{"p":3,"x":-0.167,"y":0.5},{"p":3,"x":-0.167,"y":0.667},{"p":3,"x":-0.167,"y":0.833},{"p":3,"x":-0.167,"y":1},
{"p":3,"x":0,"y":-1},{"p":3,"x":0,"y":-0.833},{"p":3,"x":0,"y":-0.667},{"p":3,"x":0,"y":-0.5},{"p":3,"x":0,"y":-0.333},{"p":3,"x":0,"y":-0.167},{"p":3,"x":0,"y":0},{"p":3,"x":0,"y":0.167},{"p":3,"x":0,"y":0.333},{"p":3,"x":0,"y":0.5},{"p":3,"x":0,"y":0.667},{"p":3,"x":0,"y":0.833},{"p":3,"x":0,"y":1},
{"p":4,"x":-1,"y":-1},{"p":4,"x":-1,"y":-0.833},{"p":4,"x":-1,"y":-0.667},{"p":4,"x":-1,"y":-0.5},{"p":4,"x":-1,"y":-0.333},{"p":4,"x":-1,"y":-0.167},{"p":4,"x":-1,"y":0},{"p":4,"x":-1,"y":0.167},{"p":4,"x":-1,"y":0.333},{"p":4,"x":-1,"y":0.5},{"p":4,"x":-1,"y":0.667},{"p":4,"x":-1,"y":0.833},{"p":4,"x":-1,"y":1},
{"p":4,"x":-0.833,"y":-1},{"p":4,"x":-0.833,"y":-0.833},{"p":4,"x":-0.833,"y":-0.667},{"p":4,"x":-0.833,"y":-0.5},{"p":4,"x":-0.833,"y":-0.333},{"p":4,"x":-0.833,"y":-0.167},{"p":4,"x":-0.833,"y":0},{"p":4,"x":-0.833,"y":0.167},{"p":4,"x":-0.833,"y":0.333},{"p":4,"x":-0.833,"y":0.5},{"p":4,"x":-0.833,"y":0.667},{"p":4,"x":-0.833,"y":0.833},{"p":4,"x":-0.833,"y":1},
{"p":4,"x":-0.667,"y":-1},{"p":4,"x":-0.667,"y":-0.833},{"p":4,"x":-0.667,"y":-0.667},{"p":4,"x":-0.667,"y":-0.5},{"p":4,"x":-0.667,"y":-0.333},{"p":4,"x":-0.667,"y":-0.167},{"p":4,"x":-0.667,"y":0},{"p":4,"x":-0.667,"y":0.167},{"p":4,"x":-0.667,"y":0.333},{"p":4,"x":-0.667,"y":0.5},{"p":4,"x":-0.667,"y":0.667},{"p":4,"x":-0.667,"y":0.833},{"p":4,"x":-0.667,"y":1},
{"p":4,"x":-0.5,"y":-1},{"p":4,"x":-0.5,"y":-0.833},{"p":4,"x":-0.5,"y":-0.667},{"p":4,"x":-0.5,"y":-0.5},{"p":4,"x":-0.5,"y":-0.333},{"p":4,"x":-0.5,"y":-0.167},{"p":4,"x":-0.5,"y":0},{"p":4,"x":-0.5,"y":0.167},{"p":4,"x":-0.5,"y":0.333},{"p":4,"x":-0.5,"y":0.5},{"p":4,"x":-0.5,"y":0.667},{"p":4,"x":-0.5,"y":0.833},{"p":4,"x":-0.5,"y":1},
{"p":4,"x":-0.333,"y":-1},{"p":4,"x":-0.333,"y":-0.833},{"p":4,"x":-0.333,"y":-0.667},{"p":4,"x":-0.333,"y":-0.5},{"p":4,"x":-0.333,"y":-0.333},{"p":4,"x":-0.333,"y":-0.167},{"p":4,"x":-0.333,"y":0},{"p":4,"x":-0.333,"y":0.167},{"p":4,"x":-0.333,"y":0.333},{"p":4,"x":-0.333,"y":0.5},{"p":4,"x":-0.333,"y":0.667},{"p":4,"x":-0.333,"y":0.833},{"p":4,"x":-0.333,"y":1},
{"p":4,"x":-0.167,"y":-1},{"p":4,"x":-0.167,"y":-0.833},{"p":4,"x":-0.167,"y":-0.667},{"p":4,"x":-0.167,"y":-0.5},{"p":4,"x":-0.167,"y":-0.333},{"p":4,"x":-0.167,"y":-0.167},{"p":4,"x":-0.167,"y":0},{"p":4,"x":-0.167,"y":0.167},{"p":4,"x":-0.167,"y":0.333},{"p":4,"x":-0.167,"y":0.5},{"p":4,"x":-0.167,"y":0.667},{"p":4,"x":-0.167,"y":0.833},{"p":4,"x":-0.167,"y":1},
{"p":4,"x":0,"y":-1},{"p":4,"x":0,"y":-0.833},{"p":4,"x":0,"y":-0.667},{"p":4,"x":0,"y":-0.5},{"p":4,"x":0,"y":-0.333},{"p":4,"x":0,"y":-0.167},{"p":4,"x":0,"y":0},{"p":4,"x":0,"y":0.167},{"p":4,"x":0,"y":0.333},{"p":4,"x":0,"y":0.5},{"p":4,"x":0,"y":0.667},{"p":4,"x":0,"y":0.833},{"p":4,"x":0,"y":1},
{"p":4,"x":0.167,"y":-1},{"p":4,"x":0.167,"y":-0.833},{"p":4,"x":0.167,"y":-0.667},{"p":4,"x":0.167,"y":-0.5},{"p":4,"x":0.167,"y":-0.333},{"p":4,"x":0.167,"y":-0.167},{"p":4,"x":0.167,"y":0},{"p":4,"x":0.167,"y":0.167},{"p":4,"x":0.167,"y":0.333},{"p":4,"x":0.167,"y":0.5},{"p":4,"x":0.167,"y":0.667},{"p":4,"x":0.167,"y":0.833},{"p":4,"x":0.167,"y":1},
{"p":4,"x":0.333,"y":-1},{"p":4,"x":0.333,"y":-0.833},{"p":4,"x":0.333,"y":-0.667},{"p":4,"x":0.333,"y":-0.5},{"p":4,"x":0.333,"y":-0.333},{"p":4,"x":0.333,"y":-0.167},{"p":4,"x":0.333,"y":0},{"p":4,"x":0.333,"y":0.167},{"p":4,"x":0.333,"y":0.333},{"p":4,"x":0.333,"y":0.5},{"p":4,"x":0.333,"y":0.667},{"p":4,"x":0.333,"y":0.833},{"p":4,"x":0.333,"y":1},
{"p":4,"x":0.5,"y":-1},{"p":4,"x":0.5,"y":-0.833},{"p":4,"x":0.5,"y":-0.667},{"p":4,"x":0.5,"y":-0.5},{"p":4,"x":0.5,"y":-0.333},{"p":4,"x":0.5,"y":-0.167},{"p":4,"x":0.5,"y":0},{"p":4,"x":0.5,"y":0.167},{"p":4,"x":0.5,"y":0.333},{"p":4,"x":0.5,"y":0.5},{"p":4,"x":0.5,"y":0.667},{"p":4,"x":0.5,"y":0.833},{"p":4,"x":0.5,"y":1},
{"p":4,"x":0.667,"y":-1},{"p":4,"x":0.667,"y":-0.833},{"p":4,"x":0.667,"y":-0.667},{"p":4,"x":0.667,"y":-0.5},{"p":4,"x":0.667,"y":-0.333},{"p":4,"x":0.667,"y":-0.167},{"p":4,"x":0.667,"y":0},{"p":4,"x":0.667,"y":0.167},{"p":4,"x":0.667,"y":0.333},{"p":4,"x":0.667,"y":0.5},{"p":4,"x":0.667,"y":0.667},{"p":4,"x":0.667,"y":0.833},{"p":4,"x":0.667,"y":1},
{"p":4,"x":0.833,"y":-1},{"p":4,"x":0.833,"y":-0.833},{"p":4,"x":0.833,"y":-0.667},{"p":4,"x":0.833,"y":-0.5},{"p":4,"x":0.833,"y":-0.333},{"p":4,"x":0.833,"y":-0.167},{"p":4,"x":0.833,"y":0},{"p":4,"x":0.833,"y":0.167},{"p":4,"x":0.833,"y":0.333},{"p":4,"x":0.833,"y":0.5},{"p":4,"x":0.833,"y":0.667},{"p":4,"x":0.833,"y":0.833},{"p":4,"x":0.833,"y":1},
{"p":4,"x":1,"y":-1},{"p":4,"x":1,"y":-0.833},{"p":4,"x":1,"y":-0.667},{"p":4,"x":1,"y":-0.5},{"p":4,"x":1,"y":-0.333},{"p":4,"x":1,"y":-0.167},{"p":4,"x":1,"y":0},{"p":4,"x":1,"y":0.167},{"p":4,"x":1,"y":0.333},{"p":4,"x":1,"y":0.5},{"p":4,"x":1,"y":0.667},{"p":4,"x":1,"y":0.833},{"p":4,"x":1,"y":1}
],
"sl":[
{"p":5,"l":1,"x":-0.9,"y":0.92},{"p":5,"l":1,"x":-0.6,"y":0.6},{"p":5,"l":1,"x":-0.3,"y":0.3},{"p":5,"l":1,"x":0,"y":0},
{"p":5,"l":2,"x":-0.9,"y":0.92},{"p":5,"l":2,"x":-0.72,"y":0.5},{"p":5,"l":2,"x":-0.35,"y":0.15},{"p":5,"l":2,"x":0,"y":0},
{"p":5,"l":3,"x":-0.9,"y":0.92},{"p":5,"l":3,"x":-0.45,"y":0.75},{"p":5,"l":3,"x":-0.2,"y":0.45},{"p":5,"l":3,"x":0,"y":0},
{"p":5,"l":4,"x":-0.9,"y":0.92},{"p":5,"l":4,"x":-0.35,"y":0.85},{"p":5,"l":4,"x":-0.1,"y":0.6},{"p":5,"l":4,"x":-0.02,"y":0.25},{"p":5,"l":4,"x":0,"y":0},
{"p":5,"l":5,"x":-0.9,"y":0.92},{"p":5,"l":5,"x":-0.84,"y":0.5},{"p":5,"l":5,"x":-0.7,"y":0.15},{"p":5,"l":5,"x":-0.35,"y":0.04},{"p":5,"l":5,"x":0,"y":0},
{"p":5,"l":6,"x":-1.05,"y":0.03},{"p":5,"l":6,"x":-0.6,"y":0.02},{"p":5,"l":6,"x":0,"y":0},
{"p":5,"l":7,"x":-0.9,"y":0.92},{"p":5,"l":7,"x":-0.55,"y":0.96},{"p":5,"l":7,"x":-0.2,"y":1.0},{"p":5,"l":7,"x":0,"y":1.08},
{"p":5,"l":8,"x":-0.9,"y":0.92},{"p":5,"l":8,"x":-0.5,"y":0.84},{"p":5,"l":8,"x":-0.05,"y":0.7},{"p":5,"l":8,"x":0.12,"y":0.72},{"p":5,"l":8,"x":0.15,"y":1.05},
{"p":5,"l":9,"x":-0.25,"y":0.78},{"p":5,"l":9,"x":0.02,"y":0.68},{"p":5,"l":9,"x":0.04,"y":0.4},{"p":5,"l":9,"x":0,"y":0},
{"p":5,"l":10,"x":0.22,"y":1.05},{"p":5,"l":10,"x":0.24,"y":0.68},{"p":5,"l":10,"x":0.45,"y":0.6},{"p":5,"l":10,"x":0.72,"y":0.47},
{"p":5,"l":11,"x":0.77,"y":0.44},{"p":5,"l":11,"x":0.67,"y":0.72},{"p":5,"l":11,"x":0.64,"y":1.05},
{"p":5,"l":12,"x":0.77,"y":0.44},{"p":5,"l":12,"x":0.77,"y":0.8},{"p":5,"l":12,"x":0.8,"y":1.05},
{"p":5,"l":13,"x":0.77,"y":0.44},{"p":5,"l":13,"x":0.88,"y":0.7},{"p":5,"l":13,"x":0.97,"y":1.05},
{"p":5,"l":14,"x":0.77,"y":0.44},{"p":5,"l":14,"x":0.95,"y":0.55},{"p":5,"l":14,"x":1.05,"y":0.6},
{"p":5,"l":15,"x":0.45,"y":1.05},{"p":5,"l":15,"x":0.52,"y":0.7},{"p":5,"l":15,"x":0.72,"y":0.5},
{"p":5,"l":16,"x":0.77,"y":0.44},{"p":5,"l":16,"x":0.45,"y":0.45},{"p":5,"l":16,"x":0.2,"y":0.35},{"p":5,"l":16,"x":0.05,"y":0.15},{"p":5,"l":16,"x":0,"y":0},
{"p":5,"l":17,"x":0.79,"y":0.3},{"p":5,"l":17,"x":0.45,"y":0.28},{"p":5,"l":17,"x":0.15,"y":0.12},{"p":5,"l":17,"x":0,"y":0},
{"p":5,"l":18,"x":0.8,"y":0.15},{"p":5,"l":18,"x":0.4,"y":0.12},{"p":5,"l":18,"x":0.1,"y":0.04},{"p":5,"l":18,"x":0,"y":0},
{"p":5,"l":19,"x":0.8,"y":0.03},{"p":5,"l":19,"x":0.5,"y":0.03},{"p":5,"l":19,"x":0.2,"y":0.02},{"p":5,"l":19,"x":0,"y":0},
{"p":5,"l":20,"x":0.8,"y":-0.08},{"p":5,"l":20,"x":0.4,"y":-0.06},{"p":5,"l":20,"x":0,"y":0},
{"p":5,"l":21,"x":0.8,"y":-0.2},{"p":5,"l":21,"x":0.4,"y":-0.15},{"p":5,"l":21,"x":0.1,"y":-0.05},{"p":5,"l":21,"x":0,"y":0},
{"p":5,"l":22,"x":0.76,"y":-0.39},{"p":5,"l":22,"x":0.45,"y":-0.35},{"p":5,"l":22,"x":0.15,"y":-0.15},{"p":5,"l":22,"x":0,"y":0},
{"p":5,"l":23,"x":0.76,"y":-0.39},{"p":5,"l":23,"x":0.45,"y":-0.55},{"p":5,"l":23,"x":0.15,"y":-0.6},{"p":5,"l":23,"x":0.04,"y":-0.35},{"p":5,"l":23,"x":0,"y":0},
{"p":5,"l":24,"x":0.76,"y":-0.39},{"p":5,"l":24,"x":0.64,"y":-0.75},{"p":5,"l":24,"x":0.6,"y":-1.05},
{"p":5,"l":25,"x":0.76,"y":-0.39},{"p":5,"l":25,"x":0.78,"y":-0.8},{"p":5,"l":25,"x":0.8,"y":-1.05},
{"p":5,"l":26,"x":0.76,"y":-0.39},{"p":5,"l":26,"x":0.9,"y":-0.7},{"p":5,"l":26,"x":1.0,"y":-1.05},
{"p":5,"l":27,"x":0.76,"y":-0.39},{"p":5,"l":27,"x":0.95,"y":-0.5},{"p":5,"l":27,"x":1.05,"y":-0.55},
{"p":5,"l":28,"x":0.84,"y":0.03},{"p":5,"l":28,"x":1.05,"y":0.03},
{"p":5,"l":29,"x":0.84,"y":0.22},{"p":5,"l":29,"x":1.05,"y":0.3},
{"p":5,"l":30,"x":0.84,"y":-0.22},{"p":5,"l":30,"x":1.05,"y":-0.3},
{"p":5,"l":31,"x":0.77,"y":0.44},{"p":5,"l":31,"x":0.83,"y":0.3},{"p":5,"l":31,"x":0.84,"y":0},{"p":5,"l":31,"x":0.83,"y":-0.3},{"p":5,"l":31,"x":0.76,"y":-0.39},
{"p":5,"l":32,"x":0.22,"y":-0.62},{"p":5,"l":32,"x":0.32,"y":-0.8},{"p":5,"l":32,"x":0.35,"y":-1.05},
{"p":5,"l":33,"x":0.42,"y":-0.5},{"p":5,"l":33,"x":0.48,"y":-0.8},{"p":5,"l":33,"x":0.5,"y":-1.05},
{"p":5,"l":34,"x":-0.92,"y":-0.92},{"p":5,"l":34,"x":-0.6,"y":-0.6},{"p":5,"l":34,"x":-0.3,"y":-0.3},{"p":5,"l":34,"x":0,"y":0},
{"p":5,"l":35,"x":-0.92,"y":-0.92},{"p":5,"l":35,"x":-0.72,"y":-0.45},{"p":5,"l":35,"x":-0.35,"y":-0.15},{"p":5,"l":35,"x":0,"y":0},
{"p":5,"l":36,"x":-0.92,"y":-0.92},{"p":5,"l":36,"x":-0.45,"y":-0.72},{"p":5,"l":36,"x":-0.2,"y":-0.45},{"p":5,"l":36,"x":0,"y":0},
{"p":5,"l":37,"x":-0.92,"y":-0.92},{"p":5,"l":37,"x":-0.3,"y":-0.8},{"p":5,"l":37,"x":-0.08,"y":-0.55},{"p":5,"l":37,"x":-0.02,"y":-0.25},{"p":5,"l":37,"x":0,"y":0},
{"p":5,"l":38,"x":-0.92,"y":-0.92},{"p":5,"l":38,"x":-0.85,"y":-0.45},{"p":5,"l":38,"x":-0.75,"y":-0.15},{"p":5,"l":38,"x":-0.35,"y":-0.04},{"p":5,"l":38,"x":0,"y":0},
{"p":5,"l":39,"x":-0.92,"y":-0.92},{"p":5,"l":39,"x":-0.5,"y":-0.88},{"p":5,"l":39,"x":-0.1,"y":-0.85},{"p":5,"l":39,"x":0.02,"y":-1.05},
{"p":5,"l":40,"x":-0.92,"y":-0.92},{"p":5,"l":40,"x":-0.6,"y":-0.97},{"p":5,"l":40,"x":-0.3,"y":-1.05},
{"p":5,"l":41,"x":-0.9,"y":0.92},{"p":5,"l":41,"x":-0.98,"y":0.7},{"p":5,"l":41,"x":-1.05,"y":0.55},
{"p":5,"l":42,"x":-0.92,"y":-0.92},{"p":5,"l":42,"x":-0.98,"y":-0.7},{"p":5,"l":42,"x":-1.05,"y":-0.55},
{"p":5,"l":43,"x":-0.9,"y":0.92},{"p":5,"l":43,"x":-0.4,"y":0.93},{"p":5,"l":43,"x":-0.1,"y":0.88},{"p":5,"l":43,"x":0.05,"y":0.97},{"p":5,"l":43,"x":0.08,"y":1.05},
{"p":5,"l":44,"x":-0.9,"y":0.92},{"p":5,"l":44,"x":-0.6,"y":0.72},{"p":5,"l":44,"x":-0.25,"y":0.55},{"p":5,"l":44,"x":-0.05,"y":0.35},{"p":5,"l":44,"x":0,"y":0},
{"p":5,"l":45,"x":-0.92,"y":-0.92},{"p":5,"l":45,"x":-0.6,"y":-0.72},{"p":5,"l":45,"x":-0.25,"y":-0.55},{"p":5,"l":45,"x":-0.05,"y":-0.35},{"p":5,"l":45,"x":0,"y":0},
{"p":5,"l":46,"x":-1.05,"y":-0.05},{"p":5,"l":46,"x":-0.6,"y":-0.03},{"p":5,"l":46,"x":0,"y":0},
{"p":6,"l":1,"x":-0.89,"y":1.05},{"p":6,"l":1,"x":-0.89,"y":0.35},{"p":6,"l":1,"x":-0.8,"y":0.12},{"p":6,"l":1,"x":-0.4,"y":0.04},{"p":6,"l":1,"x":0,"y":0},
{"p":6,"l":2,"x":-0.75,"y":1.05},{"p":6,"l":2,"x":-0.75,"y":0.35},{"p":6,"l":2,"x":-0.62,"y":0.18},{"p":6,"l":2,"x":-0.3,"y":0.1},{"p":6,"l":2,"x":0,"y":0},
{"p":6,"l":3,"x":-0.66,"y":1.05},{"p":6,"l":3,"x":-0.66,"y":0.32},{"p":6,"l":3,"x":-0.52,"y":0.2},{"p":6,"l":3,"x":-0.25,"y":0.12},{"p":6,"l":3,"x":0,"y":0},
{"p":6,"l":4,"x":-0.6,"y":1.05},{"p":6,"l":4,"x":-0.6,"y":0.32},{"p":6,"l":4,"x":-0.45,"y":0.22},{"p":6,"l":4,"x":-0.2,"y":0.12},{"p":6,"l":4,"x":0,"y":0},
{"p":6,"l":5,"x":-0.5,"y":1.05},{"p":6,"l":5,"x":-0.5,"y":0.3},{"p":6,"l":5,"x":-0.38,"y":0.22},{"p":6,"l":5,"x":-0.15,"y":0.12},{"p":6,"l":5,"x":0,"y":0},
{"p":6,"l":6,"x":-0.41,"y":1.05},{"p":6,"l":6,"x":-0.41,"y":0.3},{"p":6,"l":6,"x":-0.3,"y":0.2},{"p":6,"l":6,"x":-0.12,"y":0.1},{"p":6,"l":6,"x":0,"y":0},
{"p":6,"l":7,"x":-0.27,"y":1.05},{"p":6,"l":7,"x":-0.27,"y":0.3},{"p":6,"l":7,"x":-0.2,"y":0.18},{"p":6,"l":7,"x":-0.08,"y":0.08},{"p":6,"l":7,"x":0,"y":0},
{"p":6,"l":8,"x":-0.17,"y":1.05},{"p":6,"l":8,"x":-0.17,"y":0.3},{"p":6,"l":8,"x":-0.1,"y":0.15},{"p":6,"l":8,"x":0,"y":0},
{"p":6,"l":9,"x":-0.07,"y":1.05},{"p":6,"l":9,"x":-0.07,"y":0.3},{"p":6,"l":9,"x":-0.03,"y":0.12},{"p":6,"l":9,"x":0,"y":0},
{"p":6,"l":10,"x":0.02,"y":1.05},{"p":6,"l":10,"x":0.02,"y":0.3},{"p":6,"l":10,"x":0,"y":0},
{"p":6,"l":11,"x":-1.05,"y":0.25},{"p":6,"l":11,"x":-0.95,"y":0.22},{"p":6,"l":11,"x":-0.85,"y":0.12},{"p":6,"l":11,"x":-0.5,"y":0.06},{"p":6,"l":11,"x":0,"y":0},
{"p":6,"l":12,"x":-1.05,"y":0.06},{"p":6,"l":12,"x":-0.6,"y":0.05},{"p":6,"l":12,"x":-0.3,"y":0.03},{"p":6,"l":12,"x":0,"y":0},
{"p":6,"l":13,"x":-1.05,"y":-0.05},{"p":6,"l":13,"x":-0.5,"y":-0.03},{"p":6,"l":13,"x":0,"y":0},
{"p":6,"l":14,"x":0.1,"y":1.05},{"p":6,"l":14,"x":0.1,"y":0.35},{"p":6,"l":14,"x":0.05,"y":0.12},{"p":6,"l":14,"x":0,"y":0},
{"p":6,"l":15,"x":0.2,"y":1.05},{"p":6,"l":15,"x":0.2,"y":0.4},{"p":6,"l":15,"x":0.12,"y":0.17},{"p":6,"l":15,"x":0,"y":0},
{"p":6,"l":16,"x":0.32,"y":1.05},{"p":6,"l":16,"x":0.32,"y":0.45},{"p":6,"l":16,"x":0.2,"y":0.22},{"p":6,"l":16,"x":0,"y":0},
{"p":6,"l":17,"x":0.45,"y":1.05},{"p":6,"l":17,"x":0.45,"y":0.58},{"p":6,"l":17,"x":0.3,"y":0.32},{"p":6,"l":17,"x":0,"y":0},
{"p":6,"l":18,"x":0.62,"y":1.05},{"p":6,"l":18,"x":0.62,"y":0.72},{"p":6,"l":18,"x":0.42,"y":0.44},{"p":6,"l":18,"x":0,"y":0},
{"p":6,"l":19,"x":0.75,"y":1.05},{"p":6,"l":19,"x":0.74,"y":0.84},{"p":6,"l":19,"x":0.55,"y":0.58},{"p":6,"l":19,"x":0,"y":0},
{"p":6,"l":20,"x":1.05,"y":0.97},{"p":6,"l":20,"x":0.88,"y":0.95},{"p":6,"l":20,"x":0.65,"y":0.7},{"p":6,"l":20,"x":0,"y":0},
{"p":6,"l":21,"x":0,"y":0},{"p":6,"l":21,"x":0.5,"y":0.5},{"p":6,"l":21,"x":0.95,"y":0.97},
{"p":6,"l":22,"x":1.05,"y":0.88},{"p":6,"l":22,"x":0.95,"y":0.87},{"p":6,"l":22,"x":0.8,"y":0.78},{"p":6,"l":22,"x":0.4,"y":0.4},{"p":6,"l":22,"x":0,"y":0},
{"p":6,"l":23,"x":1.05,"y":0.78},{"p":6,"l":23,"x":0.9,"y":0.77},{"p":6,"l":23,"x":0.72,"y":0.7},{"p":6,"l":23,"x":0.4,"y":0.4},{"p":6,"l":23,"x":0,"y":0},
{"p":6,"l":24,"x":1.05,"y":0.68},{"p":6,"l":24,"x":0.85,"y":0.67},{"p":6,"l":24,"x":0.65,"y":0.6},{"p":6,"l":24,"x":0.35,"y":0.35},{"p":6,"l":24,"x":0,"y":0},
{"p":6,"l":25,"x":1.05,"y":0.58},{"p":6,"l":25,"x":0.8,"y":0.57},{"p":6,"l":25,"x":0.58,"y":0.52},{"p":6,"l":25,"x":0.3,"y":0.3},{"p":6,"l":25,"x":0,"y":0},
{"p":6,"l":26,"x":1.05,"y":0.48},{"p":6,"l":26,"x":0.75,"y":0.47},{"p":6,"l":26,"x":0.5,"y":0.43},{"p":6,"l":26,"x":0.25,"y":0.25},{"p":6,"l":26,"x":0,"y":0},
{"p":6,"l":27,"x":1.05,"y":0.38},{"p":6,"l":27,"x":0.7,"y":0.37},{"p":6,"l":27,"x":0.42,"y":0.34},{"p":6,"l":27,"x":0.2,"y":0.2},{"p":6,"l":27,"x":0,"y":0},
{"p":6,"l":28,"x":1.05,"y":0.28},{"p":6,"l":28,"x":0.65,"y":0.27},{"p":6,"l":28,"x":0.35,"y":0.25},{"p":6,"l":28,"x":0.15,"y":0.14},{"p":6,"l":28,"x":0,"y":0},
{"p":6,"l":29,"x":1.05,"y":0.18},{"p":6,"l":29,"x":0.6,"y":0.17},{"p":6,"l":29,"x":0.28,"y":0.15},{"p":6,"l":29,"x":0.1,"y":0.08},{"p":6,"l":29,"x":0,"y":0},
{"p":6,"l":30,"x":1.05,"y":0.08},{"p":6,"l":30,"x":0.5,"y":0.07},{"p":6,"l":30,"x":0.2,"y":0.05},{"p":6,"l":30,"x":0,"y":0},
{"p":6,"l":31,"x":1.05,"y":-0.04},{"p":6,"l":31,"x":0.4,"y":-0.04},{"p":6,"l":31,"x":0.1,"y":-0.02},{"p":6,"l":31,"x":0,"y":0},
{"p":6,"l":32,"x":1.05,"y":-0.15},{"p":6,"l":32,"x":0.3,"y":-0.15},{"p":6,"l":32,"x":0.08,"y":-0.08},{"p":6,"l":32,"x":0,"y":0},
{"p":6,"l":33,"x":1.05,"y":-0.27},{"p":6,"l":33,"x":0.3,"y":-0.27},{"p":6,"l":33,"x":0.07,"y":-0.15},{"p":6,"l":33,"x":0,"y":0},
{"p":6,"l":34,"x":1.05,"y":-0.38},{"p":6,"l":34,"x":0.3,"y":-0.38},{"p":6,"l":34,"x":0.06,"y":-0.2},{"p":6,"l":34,"x":0,"y":0},
{"p":6,"l":35,"x":1.05,"y":-0.52},{"p":6,"l":35,"x":0.3,"y":-0.52},{"p":6,"l":35,"x":0.06,"y":-0.27},{"p":6,"l":35,"x":0,"y":0},
{"p":6,"l":36,"x":1.05,"y":-0.62},{"p":6,"l":36,"x":0.3,"y":-0.63},{"p":6,"l":36,"x":0.06,"y":-0.33},{"p":6,"l":36,"x":0,"y":0},
{"p":6,"l":37,"x":1.05,"y":-0.72},{"p":6,"l":37,"x":0.35,"y":-0.72},{"p":6,"l":37,"x":0.07,"y":-0.38},{"p":6,"l":37,"x":0,"y":0},
{"p":6,"l":38,"x":1.05,"y":-0.83},{"p":6,"l":38,"x":0.35,"y":-0.83},{"p":6,"l":38,"x":0.08,"y":-0.45},{"p":6,"l":38,"x":0,"y":0},
{"p":6,"l":39,"x":1.05,"y":-0.95},{"p":6,"l":39,"x":0.4,"y":-0.93},{"p":6,"l":39,"x":0.1,"y":-0.5},{"p":6,"l":39,"x":0,"y":0},
{"p":6,"l":40,"x":0.25,"y":-1.05},{"p":6,"l":40,"x":0.1,"y":-0.6},{"p":6,"l":40,"x":0,"y":0},
{"p":6,"l":41,"x":0.12,"y":-1.05},{"p":6,"l":41,"x":0.05,"y":-0.6},{"p":6,"l":41,"x":0,"y":0},
{"p":6,"l":42,"x":-1.05,"y":-0.17},{"p":6,"l":42,"x":-0.45,"y":-0.13},{"p":6,"l":42,"x":0,"y":0},
{"p":6,"l":43,"x":-1.05,"y":-0.27},{"p":6,"l":43,"x":-0.45,"y":-0.2},{"p":6,"l":43,"x":0,"y":0},
{"p":6,"l":44,"x":-1.05,"y":-0.4},{"p":6,"l":44,"x":-0.45,"y":-0.3},{"p":6,"l":44,"x":0,"y":0},
{"p":6,"l":45,"x":-1.05,"y":-0.52},{"p":6,"l":45,"x":-0.45,"y":-0.39},{"p":6,"l":45,"x":0,"y":0},
{"p":6,"l":46,"x":-1.05,"y":-0.63},{"p":6,"l":46,"x":-0.45,"y":-0.47},{"p":6,"l":46,"x":0,"y":0},
{"p":6,"l":47,"x":-1.05,"y":-0.75},{"p":6,"l":47,"x":-0.45,"y":-0.56},{"p":6,"l":47,"x":0,"y":0},
{"p":6,"l":48,"x":-1.05,"y":-0.87},{"p":6,"l":48,"x":-0.5,"y":-0.65},{"p":6,"l":48,"x":0,"y":0},
{"p":6,"l":49,"x":-1.05,"y":-1.02},{"p":6,"l":49,"x":-0.55,"y":-0.75},{"p":6,"l":49,"x":0,"y":0},
{"p":6,"l":50,"x":-0.82,"y":-1.05},{"p":6,"l":50,"x":-0.45,"y":-0.65},{"p":6,"l":50,"x":0,"y":0},
{"p":6,"l":51,"x":-0.68,"y":-1.05},{"p":6,"l":51,"x":-0.38,"y":-0.6},{"p":6,"l":51,"x":0,"y":0},
{"p":6,"l":52,"x":-0.55,"y":-1.05},{"p":6,"l":52,"x":-0.3,"y":-0.6},{"p":6,"l":52,"x":0,"y":0},
{"p":6,"l":53,"x":-0.45,"y":-1.05},{"p":6,"l":53,"x":-0.24,"y":-0.6},{"p":6,"l":53,"x":0,"y":0},
{"p":6,"l":54,"x":-0.33,"y":-1.05},{"p":6,"l":54,"x":-0.18,"y":-0.6},{"p":6,"l":54,"x":0,"y":0},
{"p":6,"l":55,"x":-0.22,"y":-1.05},{"p":6,"l":55,"x":-0.12,"y":-0.6},{"p":6,"l":55,"x":0,"y":0},
{"p":6,"l":56,"x":-0.12,"y":-1.05},{"p":6,"l":56,"x":-0.06,"y":-0.6},{"p":6,"l":56,"x":0,"y":0},
{"p":6,"l":57,"x":-0.03,"y":-1.05},{"p":6,"l":57,"x":-0.02,"y":-0.6},{"p":6,"l":57,"x":0,"y":0},
{"p":7,"l":1,"x":1.05,"y":0.98},{"p":7,"l":1,"x":0.3,"y":0.98},{"p":7,"l":1,"x":0.1,"y":0.9},{"p":7,"l":1,"x":0.03,"y":0.5},{"p":7,"l":1,"x":0,"y":0},
{"p":7,"l":2,"x":1.05,"y":0.9},{"p":7,"l":2,"x":0.3,"y":0.9},{"p":7,"l":2,"x":0.1,"y":0.82},{"p":7,"l":2,"x":0.03,"y":0.45},{"p":7,"l":2,"x":0,"y":0},
{"p":7,"l":3,"x":1.05,"y":0.75},{"p":7,"l":3,"x":0.28,"y":0.75},{"p":7,"l":3,"x":0.1,"y":0.68},{"p":7,"l":3,"x":0.03,"y":0.38},{"p":7,"l":3,"x":0,"y":0},
{"p":7,"l":4,"x":1.05,"y":0.66},{"p":7,"l":4,"x":0.25,"y":0.66},{"p":7,"l":4,"x":0.1,"y":0.6},{"p":7,"l":4,"x":0.03,"y":0.33},{"p":7,"l":4,"x":0,"y":0},
{"p":7,"l":5,"x":1.05,"y":0.55},{"p":7,"l":5,"x":0.25,"y":0.55},{"p":7,"l":5,"x":0.09,"y":0.5},{"p":7,"l":5,"x":0.03,"y":0.28},{"p":7,"l":5,"x":0,"y":0},
{"p":7,"l":6,"x":1.05,"y":0.45},{"p":7,"l":6,"x":0.25,"y":0.45},{"p":7,"l":6,"x":0.08,"y":0.4},{"p":7,"l":6,"x":0.03,"y":0.22},{"p":7,"l":6,"x":0,"y":0},
{"p":7,"l":7,"x":1.05,"y":0.34},{"p":7,"l":7,"x":0.22,"y":0.34},{"p":7,"l":7,"x":0.07,"y":0.3},{"p":7,"l":7,"x":0.02,"y":0.15},{"p":7,"l":7,"x":0,"y":0},
{"p":7,"l":8,"x":1.05,"y":0.1},{"p":7,"l":8,"x":0.2,"y":0.1},{"p":7,"l":8,"x":0.05,"y":0.07},{"p":7,"l":8,"x":0,"y":0},
{"p":7,"l":9,"x":1.05,"y":-0.05},{"p":7,"l":9,"x":0.2,"y":-0.05},{"p":7,"l":9,"x":0.05,"y":-0.03},{"p":7,"l":9,"x":0,"y":0},
{"p":7,"l":10,"x":1.05,"y":-0.28},{"p":7,"l":10,"x":0.22,"y":-0.28},{"p":7,"l":10,"x":0.06,"y":-0.2},{"p":7,"l":10,"x":0,"y":0},
{"p":7,"l":11,"x":1.05,"y":-0.4},{"p":7,"l":11,"x":0.24,"y":-0.4},{"p":7,"l":11,"x":0.06,"y":-0.28},{"p":7,"l":11,"x":0,"y":0},
{"p":7,"l":12,"x":1.05,"y":-0.5},{"p":7,"l":12,"x":0.26,"y":-0.5},{"p":7,"l":12,"x":0.06,"y":-0.35},{"p":7,"l":12,"x":0,"y":0},
{"p":7,"l":13,"x":1.05,"y":-0.6},{"p":7,"l":13,"x":0.28,"y":-0.6},{"p":7,"l":13,"x":0.06,"y":-0.4},{"p":7,"l":13,"x":0,"y":0},
{"p":7,"l":14,"x":1.05,"y":-0.72},{"p":7,"l":14,"x":0.3,"y":-0.72},{"p":7,"l":14,"x":0.07,"y":-0.5},{"p":7,"l":14,"x":0,"y":0},
{"p":7,"l":15,"x":1.05,"y":-0.85},{"p":7,"l":15,"x":0.32,"y":-0.85},{"p":7,"l":15,"x":0.07,"y":-0.58},{"p":7,"l":15,"x":0,"y":0},
{"p":7,"l":16,"x":1.05,"y":-0.97},{"p":7,"l":16,"x":0.35,"y":-0.96},{"p":7,"l":16,"x":0.08,"y":-0.65},{"p":7,"l":16,"x":0,"y":0},
{"p":7,"l":17,"x":0.12,"y":-1.05},{"p":7,"l":17,"x":0.03,"y":-0.6},{"p":7,"l":17,"x":0,"y":0},
{"p":7,"l":18,"x":-0.88,"y":1.05},{"p":7,"l":18,"x":-0.55,"y":0.55},{"p":7,"l":18,"x":0,"y":0},
{"p":7,"l":19,"x":-0.74,"y":1.05},{"p":7,"l":19,"x":-0.45,"y":0.55},{"p":7,"l":19,"x":0,"y":0},
{"p":7,"l":20,"x":-0.6,"y":1.05},{"p":7,"l":20,"x":-0.35,"y":0.55},{"p":7,"l":20,"x":0,"y":0},
{"p":7,"l":21,"x":-0.45,"y":1.05},{"p":7,"l":21,"x":-0.25,"y":0.55},{"p":7,"l":21,"x":0,"y":0},
{"p":7,"l":22,"x":-0.33,"y":1.05},{"p":7,"l":22,"x":-0.17,"y":0.55},{"p":7,"l":22,"x":0,"y":0},
{"p":7,"l":23,"x":-0.22,"y":1.05},{"p":7,"l":23,"x":-0.11,"y":0.5},{"p":7,"l":23,"x":0,"y":0},
{"p":7,"l":24,"x":-0.12,"y":1.05},{"p":7,"l":24,"x":-0.06,"y":0.5},{"p":7,"l":24,"x":0,"y":0},
{"p":7,"l":25,"x":-0.03,"y":1.05},{"p":7,"l":25,"x":-0.03,"y":0.6},{"p":7,"l":25,"x":0,"y":0},
{"p":7,"l":26,"x":0.08,"y":1.05},{"p":7,"l":26,"x":0,"y":0.6},{"p":7,"l":26,"x":0,"y":0},
{"p":7,"l":27,"x":-1.05,"y":0.95},{"p":7,"l":27,"x":-0.55,"y":0.58},{"p":7,"l":27,"x":0,"y":0},
{"p":7,"l":28,"x":-1.05,"y":0.82},{"p":7,"l":28,"x":-0.55,"y":0.48},{"p":7,"l":28,"x":0,"y":0},
{"p":7,"l":29,"x":-1.05,"y":0.7},{"p":7,"l":29,"x":-0.55,"y":0.4},{"p":7,"l":29,"x":0,"y":0},
{"p":7,"l":30,"x":-1.05,"y":0.58},{"p":7,"l":30,"x":-0.55,"y":0.32},{"p":7,"l":30,"x":0,"y":0},
{"p":7,"l":31,"x":-1.05,"y":0.45},{"p":7,"l":31,"x":-0.55,"y":0.24},{"p":7,"l":31,"x":0,"y":0},
{"p":7,"l":32,"x":-1.05,"y":0.33},{"p":7,"l":32,"x":-0.55,"y":0.17},{"p":7,"l":32,"x":0,"y":0},
{"p":7,"l":33,"x":-1.05,"y":0.2},{"p":7,"l":33,"x":-0.55,"y":0.1},{"p":7,"l":33,"x":0,"y":0},
{"p":7,"l":34,"x":-1.05,"y":0.05},{"p":7,"l":34,"x":-0.5,"y":0.04},{"p":7,"l":34,"x":0,"y":0},
{"p":7,"l":35,"x":-1.05,"y":-0.02},{"p":7,"l":35,"x":-0.5,"y":-0.02},{"p":7,"l":35,"x":0,"y":0},
{"p":7,"l":36,"x":-1.05,"y":-0.15},{"p":7,"l":36,"x":-0.5,"y":-0.1},{"p":7,"l":36,"x":0,"y":0},
{"p":7,"l":37,"x":-1.05,"y":-0.27},{"p":7,"l":37,"x":-0.5,"y":-0.18},{"p":7,"l":37,"x":0,"y":0},
{"p":7,"l":38,"x":-1.05,"y":-0.38},{"p":7,"l":38,"x":-0.5,"y":-0.26},{"p":7,"l":38,"x":0,"y":0},
{"p":7,"l":39,"x":-1.05,"y":-0.5},{"p":7,"l":39,"x":-0.5,"y":-0.34},{"p":7,"l":39,"x":0,"y":0},
{"p":7,"l":40,"x":-1.05,"y":-0.62},{"p":7,"l":40,"x":-0.5,"y":-0.42},{"p":7,"l":40,"x":0,"y":0},
{"p":7,"l":41,"x":-1.05,"y":-0.75},{"p":7,"l":41,"x":-0.5,"y":-0.5},{"p":7,"l":41,"x":0,"y":0},
{"p":7,"l":42,"x":-1.05,"y":-0.88},{"p":7,"l":42,"x":-0.52,"y":-0.6},{"p":7,"l":42,"x":0,"y":0},
{"p":7,"l":43,"x":-1.05,"y":-1.02},{"p":7,"l":43,"x":-0.55,"y":-0.68},{"p":7,"l":43,"x":0,"y":0},
{"p":7,"l":44,"x":-0.82,"y":-1.05},{"p":7,"l":44,"x":-0.42,"y":-0.6},{"p":7,"l":44,"x":0,"y":0},
{"p":7,"l":45,"x":-0.68,"y":-1.05},{"p":7,"l":45,"x":-0.35,"y":-0.6},{"p":7,"l":45,"x":0,"y":0},
{"p":7,"l":46,"x":-0.55,"y":-1.05},{"p":7,"l":46,"x":-0.28,"y":-0.6},{"p":7,"l":46,"x":0,"y":0},
{"p":7,"l":47,"x":-0.45,"y":-1.05},{"p":7,"l":47,"x":-0.22,"y":-0.6},{"p":7,"l":47,"x":0,"y":0},
{"p":7,"l":48,"x":-0.32,"y":-1.05},{"p":7,"l":48,"x":-0.15,"y":-0.6},{"p":7,"l":48,"x":0,"y":0},
{"p":7,"l":49,"x":-0.2,"y":-1.05},{"p":7,"l":49,"x":-0.09,"y":-0.6},{"p":7,"l":49,"x":0,"y":0},
{"p":7,"l":50,"x":-0.1,"y":-1.05},{"p":7,"l":50,"x":-0.04,"y":-0.6},{"p":7,"l":50,"x":0,"y":0},
{"p":7,"l":51,"x":0.02,"y":-1.05},{"p":7,"l":51,"x":0.01,"y":-0.6},{"p":7,"l":51,"x":0,"y":0},
{"p":8,"l":1,"x":-0.9,"y":1.05},{"p":8,"l":1,"x":-0.45,"y":0.52},{"p":8,"l":1,"x":0,"y":0},
{"p":8,"l":2,"x":-0.75,"y":1.05},{"p":8,"l":2,"x":-0.375,"y":0.52},{"p":8,"l":2,"x":0,"y":0},
{"p":8,"l":3,"x":-0.6,"y":1.05},{"p":8,"l":3,"x":-0.3,"y":0.52},{"p":8,"l":3,"x":0,"y":0},
{"p":8,"l":4,"x":-0.48,"y":1.05},{"p":8,"l":4,"x":-0.24,"y":0.52},{"p":8,"l":4,"x":0,"y":0},
{"p":8,"l":5,"x":-0.36,"y":1.05},{"p":8,"l":5,"x":-0.18,"y":0.52},{"p":8,"l":5,"x":0,"y":0},
{"p":8,"l":6,"x":-0.25,"y":1.05},{"p":8,"l":6,"x":-0.125,"y":0.52},{"p":8,"l":6,"x":0,"y":0},
{"p":8,"l":7,"x":-0.15,"y":1.05},{"p":8,"l":7,"x":-0.075,"y":0.52},{"p":8,"l":7,"x":0,"y":0},
{"p":8,"l":8,"x":-0.05,"y":1.05},{"p":8,"l":8,"x":-0.025,"y":0.52},{"p":8,"l":8,"x":0,"y":0},
{"p":8,"l":9,"x":0.05,"y":1.05},{"p":8,"l":9,"x":0.025,"y":0.52},{"p":8,"l":9,"x":0,"y":0},
{"p":8,"l":10,"x":0.17,"y":1.05},{"p":8,"l":10,"x":0.085,"y":0.52},{"p":8,"l":10,"x":0,"y":0},
{"p":8,"l":11,"x":0.3,"y":1.05},{"p":8,"l":11,"x":0.15,"y":0.52},{"p":8,"l":11,"x":0,"y":0},
{"p":8,"l":12,"x":0.42,"y":1.05},{"p":8,"l":12,"x":0.21,"y":0.52},{"p":8,"l":12,"x":0,"y":0},
{"p":8,"l":13,"x":0.55,"y":1.05},{"p":8,"l":13,"x":0.275,"y":0.52},{"p":8,"l":13,"x":0,"y":0},
{"p":8,"l":14,"x":0.68,"y":1.05},{"p":8,"l":14,"x":0.34,"y":0.52},{"p":8,"l":14,"x":0,"y":0},
{"p":8,"l":15,"x":0.82,"y":1.05},{"p":8,"l":15,"x":0.41,"y":0.52},{"p":8,"l":15,"x":0,"y":0},
{"p":8,"l":16,"x":0.95,"y":1.05},{"p":8,"l":16,"x":0.475,"y":0.52},{"p":8,"l":16,"x":0,"y":0},
{"p":8,"l":17,"x":-0.9,"y":-1.05},{"p":8,"l":17,"x":-0.45,"y":-0.52},{"p":8,"l":17,"x":0,"y":0},
{"p":8,"l":18,"x":-0.75,"y":-1.05},{"p":8,"l":18,"x":-0.375,"y":-0.52},{"p":8,"l":18,"x":0,"y":0},
{"p":8,"l":19,"x":-0.6,"y":-1.05},{"p":8,"l":19,"x":-0.3,"y":-0.52},{"p":8,"l":19,"x":0,"y":0},
{"p":8,"l":20,"x":-0.48,"y":-1.05},{"p":8,"l":20,"x":-0.24,"y":-0.52},{"p":8,"l":20,"x":0,"y":0},
{"p":8,"l":21,"x":-0.36,"y":-1.05},{"p":8,"l":21,"x":-0.18,"y":-0.52},{"p":8,"l":21,"x":0,"y":0},
{"p":8,"l":22,"x":-0.25,"y":-1.05},{"p":8,"l":22,"x":-0.125,"y":-0.52},{"p":8,"l":22,"x":0,"y":0},
{"p":8,"l":23,"x":-0.15,"y":-1.05},{"p":8,"l":23,"x":-0.075,"y":-0.52},{"p":8,"l":23,"x":0,"y":0},
{"p":8,"l":24,"x":-0.05,"y":-1.05},{"p":8,"l":24,"x":-0.025,"y":-0.52},{"p":8,"l":24,"x":0,"y":0},
{"p":8,"l":25,"x":0.05,"y":-1.05},{"p":8,"l":25,"x":0.025,"y":-0.52},{"p":8,"l":25,"x":0,"y":0},
{"p":8,"l":26,"x":0.15,"y":-1.05},{"p":8,"l":26,"x":0.075,"y":-0.52},{"p":8,"l":26,"x":0,"y":0},
{"p":8,"l":27,"x":0.25,"y":-1.05},{"p":8,"l":27,"x":0.125,"y":-0.52},{"p":8,"l":27,"x":0,"y":0},
{"p":8,"l":28,"x":0.36,"y":-1.05},{"p":8,"l":28,"x":0.18,"y":-0.52},{"p":8,"l":28,"x":0,"y":0},
{"p":8,"l":29,"x":0.48,"y":-1.05},{"p":8,"l":29,"x":0.24,"y":-0.52},{"p":8,"l":29,"x":0,"y":0},
{"p":8,"l":30,"x":0.6,"y":-1.05},{"p":8,"l":30,"x":0.3,"y":-0.52},{"p":8,"l":30,"x":0,"y":0},
{"p":8,"l":31,"x":0.75,"y":-1.05},{"p":8,"l":31,"x":0.375,"y":-0.52},{"p":8,"l":31,"x":0,"y":0},
{"p":8,"l":32,"x":0.9,"y":-1.05},{"p":8,"l":32,"x":0.45,"y":-0.52},{"p":8,"l":32,"x":0,"y":0},
{"p":8,"l":33,"x":-1.05,"y":0.92},{"p":8,"l":33,"x":-0.5,"y":0.616},{"p":8,"l":33,"x":0,"y":0},
{"p":8,"l":34,"x":-1.05,"y":0.8},{"p":8,"l":34,"x":-0.5,"y":0.536},{"p":8,"l":34,"x":0,"y":0},
{"p":8,"l":35,"x":-1.05,"y":0.62},{"p":8,"l":35,"x":-0.5,"y":0.415},{"p":8,"l":35,"x":0,"y":0},
{"p":8,"l":36,"x":-1.05,"y":0.49},{"p":8,"l":36,"x":-0.5,"y":0.328},{"p":8,"l":36,"x":0,"y":0},
{"p":8,"l":37,"x":-1.05,"y":0.36},{"p":8,"l":37,"x":-0.5,"y":0.241},{"p":8,"l":37,"x":0,"y":0},
{"p":8,"l":38,"x":-1.05,"y":0.24},{"p":8,"l":38,"x":-0.5,"y":0.161},{"p":8,"l":38,"x":0,"y":0},
{"p":8,"l":39,"x":-1.05,"y":0.14},{"p":8,"l":39,"x":-0.5,"y":0.094},{"p":8,"l":39,"x":0,"y":0},
{"p":8,"l":40,"x":-1.05,"y":0.05},{"p":8,"l":40,"x":-0.5,"y":0.034},{"p":8,"l":40,"x":0,"y":0},
{"p":8,"l":41,"x":-1.05,"y":-0.03},{"p":8,"l":41,"x":-0.5,"y":-0.02},{"p":8,"l":41,"x":0,"y":0},
{"p":8,"l":42,"x":-1.05,"y":-0.12},{"p":8,"l":42,"x":-0.5,"y":-0.08},{"p":8,"l":42,"x":0,"y":0},
{"p":8,"l":43,"x":-1.05,"y":-0.24},{"p":8,"l":43,"x":-0.5,"y":-0.161},{"p":8,"l":43,"x":0,"y":0},
{"p":8,"l":44,"x":-1.05,"y":-0.34},{"p":8,"l":44,"x":-0.5,"y":-0.228},{"p":8,"l":44,"x":0,"y":0},
{"p":8,"l":45,"x":-1.05,"y":-0.44},{"p":8,"l":45,"x":-0.5,"y":-0.295},{"p":8,"l":45,"x":0,"y":0},
{"p":8,"l":46,"x":-1.05,"y":-0.55},{"p":8,"l":46,"x":-0.5,"y":-0.369},{"p":8,"l":46,"x":0,"y":0},
{"p":8,"l":47,"x":-1.05,"y":-0.67},{"p":8,"l":47,"x":-0.5,"y":-0.449},{"p":8,"l":47,"x":0,"y":0},
{"p":8,"l":48,"x":-1.05,"y":-0.77},{"p":8,"l":48,"x":-0.5,"y":-0.516},{"p":8,"l":48,"x":0,"y":0},
{"p":8,"l":49,"x":-1.05,"y":-0.9},{"p":8,"l":49,"x":-0.5,"y":-0.603},{"p":8,"l":49,"x":0,"y":0},
{"p":8,"l":50,"x":1.05,"y":0.85},{"p":8,"l":50,"x":0.5,"y":0.57},{"p":8,"l":50,"x":0,"y":0},
{"p":8,"l":51,"x":1.05,"y":0.7},{"p":8,"l":51,"x":0.5,"y":0.469},{"p":8,"l":51,"x":0,"y":0},
{"p":8,"l":52,"x":1.05,"y":0.55},{"p":8,"l":52,"x":0.5,"y":0.369},{"p":8,"l":52,"x":0,"y":0},
{"p":8,"l":53,"x":1.05,"y":0.42},{"p":8,"l":53,"x":0.5,"y":0.281},{"p":8,"l":53,"x":0,"y":0},
{"p":8,"l":54,"x":1.05,"y":0.3},{"p":8,"l":54,"x":0.5,"y":0.201},{"p":8,"l":54,"x":0,"y":0},
{"p":8,"l":55,"x":1.05,"y":0.2},{"p":8,"l":55,"x":0.5,"y":0.134},{"p":8,"l":55,"x":0,"y":0},
{"p":8,"l":56,"x":1.05,"y":0.08},{"p":8,"l":56,"x":0.5,"y":0.054},{"p":8,"l":56,"x":0,"y":0},
{"p":8,"l":57,"x":1.05,"y":-0.02},{"p":8,"l":57,"x":0.5,"y":-0.013},{"p":8,"l":57,"x":0,"y":0},
{"p":8,"l":58,"x":1.05,"y":-0.12},{"p":8,"l":58,"x":0.5,"y":-0.08},{"p":8,"l":58,"x":0,"y":0},
{"p":8,"l":59,"x":1.05,"y":-0.25},{"p":8,"l":59,"x":0.5,"y":-0.168},{"p":8,"l":59,"x":0,"y":0},
{"p":8,"l":60,"x":1.05,"y":-0.38},{"p":8,"l":60,"x":0.5,"y":-0.255},{"p":8,"l":60,"x":0,"y":0},
{"p":8,"l":61,"x":1.05,"y":-0.5},{"p":8,"l":61,"x":0.5,"y":-0.335},{"p":8,"l":61,"x":0,"y":0},
{"p":8,"l":62,"x":1.05,"y":-0.62},{"p":8,"l":62,"x":0.5,"y":-0.415},{"p":8,"l":62,"x":0,"y":0},
{"p":8,"l":63,"x":1.05,"y":-0.75},{"p":8,"l":63,"x":0.5,"y":-0.503},{"p":8,"l":63,"x":0,"y":0},
{"p":8,"l":64,"x":1.05,"y":-0.88},{"p":8,"l":64,"x":0.5,"y":-0.59},{"p":8,"l":64,"x":0,"y":0}
],
"ar":[
{"p":5,"x":-0.56,"y":0.96,"a":85},{"p":5,"x":-0.26,"y":0.92,"a":100},{"p":5,"x":-0.58,"y":0.58,"a":135},{"p":5,"x":-0.4,"y":0.35,"a":130},{"p":5,"x":-0.3,"y":0.6,"a":140},{"p":5,"x":-0.84,"y":0.6,"a":170},{"p":5,"x":-0.6,"y":0.02,"a":90},{"p":5,"x":0.1,"y":0.88,"a":0},{"p":5,"x":0.03,"y":0.4,"a":180},{"p":5,"x":0.37,"y":0.63,"a":110},{"p":5,"x":0.66,"y":0.87,"a":-5},{"p":5,"x":0.9,"y":0.85,"a":20},{"p":5,"x":0.55,"y":0.29,"a":-95},{"p":5,"x":0.55,"y":0.13,"a":-95},{"p":5,"x":0.62,"y":0.03,"a":-90},{"p":5,"x":0.6,"y":-0.18,"a":-85},{"p":5,"x":0.93,"y":0.03,"a":90},{"p":5,"x":0.95,"y":0.26,"a":70},{"p":5,"x":0.95,"y":-0.27,"a":110},{"p":5,"x":0.36,"y":-0.58,"a":-90},{"p":5,"x":0.63,"y":-0.87,"a":180},{"p":5,"x":0.34,"y":-0.87,"a":175},{"p":5,"x":-0.56,"y":-0.88,"a":85},{"p":5,"x":0.02,"y":-0.87,"a":170},{"p":5,"x":-0.58,"y":-0.58,"a":45},{"p":5,"x":-0.3,"y":-0.6,"a":40},{"p":5,"x":-0.84,"y":-0.6,"a":10},{"p":5,"x":0,"y":-0.27,"a":0},{"p":5,"x":-0.45,"y":-0.3,"a":55},
{"p":6,"x":-0.89,"y":0.94,"a":180},{"p":6,"x":-0.89,"y":0.64,"a":180},{"p":6,"x":-0.89,"y":0.38,"a":180},{"p":6,"x":-0.6,"y":0.94,"a":180},{"p":6,"x":-0.6,"y":0.64,"a":180},{"p":6,"x":-0.6,"y":0.38,"a":180},{"p":6,"x":-0.27,"y":0.94,"a":180},{"p":6,"x":-0.27,"y":0.64,"a":180},{"p":6,"x":-0.27,"y":0.38,"a":180},{"p":6,"x":0.02,"y":0.94,"a":180},{"p":6,"x":0.02,"y":0.64,"a":180},{"p":6,"x":0.02,"y":0.38,"a":180},{"p":6,"x":0.32,"y":0.94,"a":180},{"p":6,"x":0.32,"y":0.64,"a":180},{"p":6,"x":0.62,"y":0.94,"a":180},{"p":6,"x":0.93,"y":0.96,"a":-90},{"p":6,"x":0.93,"y":0.38,"a":-90},{"p":6,"x":0.66,"y":0.37,"a":-95},{"p":6,"x":0.8,"y":0.57,"a":-95},{"p":6,"x":0.93,"y":0.78,"a":-90},{"p":6,"x":0.93,"y":-0.04,"a":-90},{"p":6,"x":0.63,"y":-0.04,"a":-90},{"p":6,"x":0.33,"y":-0.04,"a":-90},{"p":6,"x":0.93,"y":-0.27,"a":-90},{"p":6,"x":0.63,"y":-0.27,"a":-90},{"p":6,"x":0.93,"y":-0.52,"a":-90},{"p":6,"x":0.63,"y":-0.52,"a":-90},{"p":6,"x":0.36,"y":-0.52,"a":-90},{"p":6,"x":0.93,"y":-0.83,"a":-90},{"p":6,"x":0.63,"y":-0.83,"a":-90},{"p":6,"x":0.38,"y":-0.83,"a":-90},{"p":6,"x":-0.93,"y":0.06,"a":90},{"p":6,"x":-0.62,"y":0.05,"a":90},{"p":6,"x":-0.32,"y":0.03,"a":90},{"p":6,"x":-0.93,"y":-0.27,"a":80},{"p":6,"x":-0.62,"y":-0.21,"a":75},{"p":6,"x":-0.92,"y":-0.62,"a":65},{"p":6,"x":-0.62,"y":-0.5,"a":55},{"p":6,"x":-0.3,"y":-0.35,"a":50},{"p":6,"x":-0.85,"y":-0.93,"a":45},{"p":6,"x":-0.55,"y":-0.85,"a":30},{"p":6,"x":-0.27,"y":-0.8,"a":20},{"p":6,"x":-0.15,"y":-0.45,"a":15},{"p":6,"x":0.0,"y":-0.62,"a":0},{"p":6,"x":0.1,"y":-0.95,"a":-10},
{"p":7,"x":0.93,"y":0.98,"a":-90},{"p":7,"x":0.66,"y":0.98,"a":-90},{"p":7,"x":0.93,"y":0.66,"a":-90},{"p":7,"x":0.66,"y":0.66,"a":-90},{"p":7,"x":0.36,"y":0.66,"a":-90},{"p":7,"x":0.93,"y":0.34,"a":-90},{"p":7,"x":0.63,"y":0.34,"a":-90},{"p":7,"x":0.33,"y":0.34,"a":-90},{"p":7,"x":0.93,"y":0.1,"a":-90},{"p":7,"x":0.63,"y":0.1,"a":-90},{"p":7,"x":0.33,"y":0.1,"a":-90},{"p":7,"x":0.93,"y":-0.28,"a":-90},{"p":7,"x":0.63,"y":-0.28,"a":-90},{"p":7,"x":0.93,"y":-0.6,"a":-90},{"p":7,"x":0.63,"y":-0.6,"a":-90},{"p":7,"x":0.33,"y":-0.6,"a":-90},{"p":7,"x":0.93,"y":-0.85,"a":-90},{"p":7,"x":0.63,"y":-0.85,"a":-90},{"p":7,"x":0.33,"y":-0.85,"a":-90},{"p":7,"x":-0.78,"y":0.91,"a":150},{"p":7,"x":-0.55,"y":0.91,"a":155},{"p":7,"x":-0.3,"y":0.91,"a":165},{"p":7,"x":-0.83,"y":0.65,"a":125},{"p":7,"x":-0.5,"y":0.63,"a":145},{"p":7,"x":-0.26,"y":0.43,"a":150},{"p":7,"x":-0.5,"y":0.27,"a":120},{"p":7,"x":-0.83,"y":0.38,"a":115},{"p":7,"x":-0.93,"y":0.05,"a":90},{"p":7,"x":-0.62,"y":0.04,"a":90},{"p":7,"x":-0.35,"y":0.03,"a":90},{"p":7,"x":-0.93,"y":-0.24,"a":78},{"p":7,"x":-0.6,"y":-0.29,"a":65},{"p":7,"x":-0.9,"y":-0.6,"a":60},{"p":7,"x":-0.52,"y":-0.5,"a":50},{"p":7,"x":-0.82,"y":-0.88,"a":45},{"p":7,"x":-0.5,"y":-0.87,"a":30},{"p":7,"x":-0.27,"y":-0.87,"a":15},{"p":7,"x":-0.25,"y":-0.55,"a":25},{"p":7,"x":0.01,"y":-0.85,"a":0},
{"p":8,"x":-0.84,"y":0.96,"a":140},{"p":8,"x":-0.55,"y":0.93,"a":155},{"p":8,"x":-0.27,"y":0.93,"a":165},{"p":8,"x":0.16,"y":0.93,"a":190},{"p":8,"x":0.5,"y":0.95,"a":205},{"p":8,"x":0.92,"y":0.96,"a":220},{"p":8,"x":-0.72,"y":0.68,"a":135},{"p":8,"x":-0.45,"y":0.72,"a":150},{"p":8,"x":-0.18,"y":0.78,"a":170},{"p":8,"x":0.08,"y":0.6,"a":185},{"p":8,"x":0.48,"y":0.6,"a":210},{"p":8,"x":0.8,"y":0.68,"a":225},{"p":8,"x":-0.35,"y":0.32,"a":135},{"p":8,"x":0.62,"y":0.33,"a":235},{"p":8,"x":-0.93,"y":0.6,"a":110},{"p":8,"x":-0.93,"y":0.33,"a":105},{"p":8,"x":-0.93,"y":0.05,"a":90},{"p":8,"x":-0.62,"y":0.04,"a":92},{"p":8,"x":-0.35,"y":0.03,"a":95},{"p":8,"x":-0.93,"y":-0.24,"a":78},{"p":8,"x":-0.6,"y":-0.2,"a":70},{"p":8,"x":-0.93,"y":-0.55,"a":65},{"p":8,"x":-0.62,"y":-0.52,"a":55},{"p":8,"x":-0.9,"y":-0.9,"a":45},{"p":8,"x":0.93,"y":0.8,"a":-125},{"p":8,"x":0.93,"y":0.28,"a":-105},{"p":8,"x":0.93,"y":0.05,"a":-90},{"p":8,"x":0.65,"y":0.05,"a":-92},{"p":8,"x":0.35,"y":0.04,"a":-95},{"p":8,"x":0.93,"y":-0.24,"a":-75},{"p":8,"x":0.62,"y":-0.2,"a":-70},{"p":8,"x":0.93,"y":-0.55,"a":-62},{"p":8,"x":0.62,"y":-0.55,"a":-50},{"p":8,"x":0.93,"y":-0.88,"a":-45},{"p":8,"x":-0.6,"y":-0.9,"a":25},{"p":8,"x":-0.27,"y":-0.9,"a":15},{"p":8,"x":0.05,"y":-0.9,"a":0},{"p":8,"x":0.05,"y":-0.6,"a":0},{"p":8,"x":0.35,"y":-0.9,"a":-10},{"p":8,"x":0.65,"y":-0.9,"a":-25},{"p":8,"x":-0.3,"y":-0.55,"a":30},{"p":8,"x":0.35,"y":-0.55,"a":-35}
]
},
"concat":[
{"width":264,"height":264,
"encoding":{"x":{"field":"x","type":"quantitative","scale":{"domain":[-1,1],"nice":false,"zero":false},"axis":{"values":[-1,-0.5,0,0.5,1],"labels":false,"title":null}},
"y":{"field":"y","type":"quantitative","scale":{"domain":[-1,1],"nice":false,"zero":false},"axis":{"values":[-1,-0.5,0,0.5,1],"title":"x₂","titlePadding":10}}},
"layer":[
{"data":{"name":"df"},"transform":[{"filter":"datum.p==1"}],"mark":{"type":"rect","fillOpacity":0.6},"encoding":{"x2":{"field":"x2"},"y2":{"field":"y2"},
"color":{"datum":"D","scale":{"domain":["L","G","T","D","S"],"range":["#10e810","#0000ff","#c0104a","#e4e6ea","#000000"]},
"legend":{"orient":"none","legendX":93,"legendY":-74,"direction":"horizontal","columns":5,"title":null,"strokeColor":"#333333","padding":8,"symbolSize":400,"symbolStrokeWidth":2.5,"symbolOpacity":1,"labelFont":"Liberation Serif","labelFontSize":23,"labelColor":"#000000","labelOffset":18,"columnPadding":26,"labelLimit":400,"fillColor":"#ffffff",
"labelExpr":"datum.value=='L'?'learned V\u0302':datum.value=='G'?'ground truth V*':datum.value=='T'?'training data':datum.value=='D'?'data free area':'streamlines'"}}}},
{"data":{"name":"lv"},"transform":[{"filter":"datum.p==1"}],"mark":{"type":"line","clip":true,"interpolate":"cardinal-closed","strokeWidth":3.5},"encoding":{"detail":{"field":"c","type":"nominal"},"order":{"value":null},"color":{"datum":"L"}}},
{"data":{"name":"gt"},"transform":[{"filter":"datum.f=='A'"}],"mark":{"type":"line","clip":true,"interpolate":"cardinal-closed","strokeWidth":3,"strokeDash":[3.5,3]},"encoding":{"detail":{"field":"c","type":"nominal"},"order":{"value":null},"color":{"datum":"G"}}}
]},
{"width":264,"height":264,
"encoding":{"x":{"field":"x","type":"quantitative","scale":{"domain":[-1,1],"nice":false,"zero":false},"axis":{"values":[-1,-0.5,0,0.5,1],"labels":false,"title":null}},
"y":{"field":"y","type":"quantitative","scale":{"domain":[-1,1],"nice":false,"zero":false},"axis":{"values":[-1,-0.5,0,0.5,1],"labels":false,"title":null}}},
"layer":[
{"data":{"name":"df"},"transform":[{"filter":"datum.p==2"}],"mark":{"type":"rect","fillOpacity":0.6},"encoding":{"x2":{"field":"x2"},"y2":{"field":"y2"},"color":{"datum":"D"}}},
{"data":{"name":"lv"},"transform":[{"filter":"datum.p==2"}],"mark":{"type":"line","clip":true,"interpolate":"cardinal-closed","strokeWidth":3.5},"encoding":{"detail":{"field":"c","type":"nominal"},"order":{"value":null},"color":{"datum":"L"}}},
{"data":{"name":"gt"},"transform":[{"filter":"datum.f=='A'"}],"mark":{"type":"line","clip":true,"interpolate":"cardinal-closed","strokeWidth":3,"strokeDash":[3.5,3]},"encoding":{"detail":{"field":"c","type":"nominal"},"order":{"value":null},"color":{"datum":"G"}}},
{"data":{"name":"td"},"transform":[{"filter":"datum.p==2"}],"mark":{"type":"point","filled":false,"size":300,"strokeWidth":1.1,"opacity":1},"encoding":{"color":{"datum":"T"},
"shape":{"datum":"T","scale":{"domain":["L","G","T","D","S"],"range":["M-1,0H2","M-4,0H-3.4M-2.9,0H-2.3M-1.8,0H-1.2M-0.7,0H-0.1M0.4,0H1M1.5,0H2.1","M0,-0.5L0.118,-0.162L0.476,-0.155L0.19,0.062L0.294,0.405L0,0.2L-0.294,0.405L-0.19,0.062L-0.476,-0.155L-0.118,-0.162Z","M-3,-0.9H1.5V0.9H-3Z","M-4,0H1.2M0.6,-0.35L2,0L0.6,0.35Z"]}}}}
]},
{"width":264,"height":264,
"encoding":{"x":{"field":"x","type":"quantitative","scale":{"domain":[-1,1],"nice":false,"zero":false},"axis":{"values":[-1,-0.5,0,0.5,1],"labels":false,"title":null}},
"y":{"field":"y","type":"quantitative","scale":{"domain":[-1,1],"nice":false,"zero":false},"axis":{"values":[-1,-0.5,0,0.5,1],"labels":false,"title":null}}},
"layer":[
{"data":{"name":"df"},"transform":[{"filter":"datum.p==3"}],"mark":{"type":"rect","fillOpacity":0.6},"encoding":{"x2":{"field":"x2"},"y2":{"field":"y2"},"color":{"datum":"D"}}},
{"data":{"name":"lv"},"transform":[{"filter":"datum.p==3"}],"mark":{"type":"line","clip":true,"interpolate":"cardinal-closed","strokeWidth":4},"encoding":{"detail":{"field":"c","type":"nominal"},"order":{"value":null},"color":{"datum":"L"}}},
{"data":{"name":"gt"},"transform":[{"filter":"datum.f=='C'"}],"mark":{"type":"line","clip":true,"interpolate":"cardinal-closed","strokeWidth":3,"strokeDash":[3.5,3]},"encoding":{"detail":{"field":"c","type":"nominal"},"order":{"value":null},"color":{"datum":"G"}}},
{"data":{"name":"td"},"transform":[{"filter":"datum.p==3"}],"mark":{"type":"point","filled":false,"size":300,"strokeWidth":1.1,"opacity":1},"encoding":{"color":{"datum":"T"},"shape":{"datum":"T"}}}
]},
{"width":264,"height":264,
"encoding":{"x":{"field":"x","type":"quantitative","scale":{"domain":[-1,1],"nice":false,"zero":false},"axis":{"values":[-1,-0.5,0,0.5,1],"labels":false,"title":null}},
"y":{"field":"y","type":"quantitative","scale":{"domain":[-1,1],"nice":false,"zero":false},"axis":{"values":[-1,-0.5,0,0.5,1],"labels":false,"title":null}}},
"layer":[
{"data":{"name":"gt"},"transform":[{"filter":"datum.f=='B'"}],"mark":{"type":"line","clip":true,"interpolate":"cardinal-closed","strokeWidth":4.5},"encoding":{"detail":{"field":"c","type":"nominal"},"order":{"value":null},"color":{"datum":"L"}}},
{"data":{"name":"gt"},"transform":[{"filter":"datum.f=='B'"}],"mark":{"type":"line","clip":true,"interpolate":"cardinal-closed","strokeWidth":3,"strokeDash":[3.5,3]},"encoding":{"detail":{"field":"c","type":"nominal"},"order":{"value":null},"color":{"datum":"G"}}},
{"data":{"name":"td"},"transform":[{"filter":"datum.p==4"}],"mark":{"type":"point","filled":false,"size":300,"strokeWidth":1.1,"opacity":1},"encoding":{"color":{"datum":"T"},"shape":{"datum":"T"}}}
]},
{"width":264,"height":264,
"encoding":{"x":{"field":"x","type":"quantitative","scale":{"domain":[-1,1],"nice":false,"zero":false},"axis":{"values":[-1,-0.5,0,0.5,1],"title":"x₁"}},
"y":{"field":"y","type":"quantitative","scale":{"domain":[-1,1],"nice":false,"zero":false},"axis":{"values":[-1,-0.5,0,0.5,1],"title":"x₂","titlePadding":10}}},
"layer":[
{"data":{"name":"sl"},"transform":[{"filter":"datum.p==5"}],"mark":{"type":"line","clip":true,"interpolate":"basis","strokeWidth":1.8},"encoding":{"detail":{"field":"l","type":"nominal"},"order":{"value":null},"color":{"datum":"S"}}},
{"data":{"name":"ar"},"transform":[{"filter":"datum.p==5"}],"mark":{"type":"point","shape":"M0,-1L0.6,0.7L-0.6,0.7Z","filled":true,"size":70,"opacity":1,"strokeWidth":0},"encoding":{"angle":{"field":"a","type":"quantitative","scale":null},"color":{"datum":"S"}}}
]},
{"width":264,"height":264,
"encoding":{"x":{"field":"x","type":"quantitative","scale":{"domain":[-1,1],"nice":false,"zero":false},"axis":{"values":[-1,-0.5,0,0.5,1],"title":"x₁"}},
"y":{"field":"y","type":"quantitative","scale":{"domain":[-1,1],"nice":false,"zero":false},"axis":{"values":[-1,-0.5,0,0.5,1],"labels":false,"title":null}}},
"layer":[
{"data":{"name":"sl"},"transform":[{"filter":"datum.p==6"}],"mark":{"type":"line","clip":true,"interpolate":"basis","strokeWidth":1.8},"encoding":{"detail":{"field":"l","type":"nominal"},"order":{"value":null},"color":{"datum":"S"}}},
{"data":{"name":"ar"},"transform":[{"filter":"datum.p==6"}],"mark":{"type":"point","shape":"M0,-1L0.6,0.7L-0.6,0.7Z","filled":true,"size":70,"opacity":1,"strokeWidth":0},"encoding":{"angle":{"field":"a","type":"quantitative","scale":null},"color":{"datum":"S"}}}
]},
{"width":264,"height":264,
"encoding":{"x":{"field":"x","type":"quantitative","scale":{"domain":[-1,1],"nice":false,"zero":false},"axis":{"values":[-1,-0.5,0,0.5,1],"title":"x₁"}},
"y":{"field":"y","type":"quantitative","scale":{"domain":[-1,1],"nice":false,"zero":false},"axis":{"values":[-1,-0.5,0,0.5,1],"labels":false,"title":null}}},
"layer":[
{"data":{"name":"sl"},"transform":[{"filter":"datum.p==7"}],"mark":{"type":"line","clip":true,"interpolate":"basis","strokeWidth":1.8},"encoding":{"detail":{"field":"l","type":"nominal"},"order":{"value":null},"color":{"datum":"S"}}},
{"data":{"name":"ar"},"transform":[{"filter":"datum.p==7"}],"mark":{"type":"point","shape":"M0,-1L0.6,0.7L-0.6,0.7Z","filled":true,"size":70,"opacity":1,"strokeWidth":0},"encoding":{"angle":{"field":"a","type":"quantitative","scale":null},"color":{"datum":"S"}}}
]},
{"width":264,"height":264,
"encoding":{"x":{"field":"x","type":"quantitative","scale":{"domain":[-1,1],"nice":false,"zero":false},"axis":{"values":[-1,-0.5,0,0.5,1],"title":"x₁"}},
"y":{"field":"y","type":"quantitative","scale":{"domain":[-1,1],"nice":false,"zero":false},"axis":{"values":[-1,-0.5,0,0.5,1],"labels":false,"title":null}}},
"layer":[
{"data":{"name":"sl"},"transform":[{"filter":"datum.p==8"}],"mark":{"type":"line","clip":true,"interpolate":"basis","strokeWidth":1.8},"encoding":{"detail":{"field":"l","type":"nominal"},"order":{"value":null},"color":{"datum":"S"}}},
{"data":{"name":"ar"},"transform":[{"filter":"datum.p==8"}],"mark":{"type":"point","shape":"M0,-1L0.6,0.7L-0.6,0.7Z","filled":true,"size":70,"opacity":1,"strokeWidth":0},"encoding":{"angle":{"field":"a","type":"quantitative","scale":null},"color":{"datum":"S"}}}
]}
],
"config":{
"view":{"stroke":"#4d4d4d","strokeWidth":1.3},
"axis":{"grid":true,"gridColor":"#d4d4d4","gridWidth":1,"domain":false,"ticks":false,"format":"~g","labelFont":"Liberation Serif","labelFontSize":15,"labelColor":"#1a1a1a","labelPadding":4,"labelFlush":false,"labelOverlap":false,"titleFont":"Liberation Serif","titleFontSize":21,"titleFontWeight":"bold","titleFontStyle":"italic","titleColor":"#000000","titlePadding":2}
}
}
